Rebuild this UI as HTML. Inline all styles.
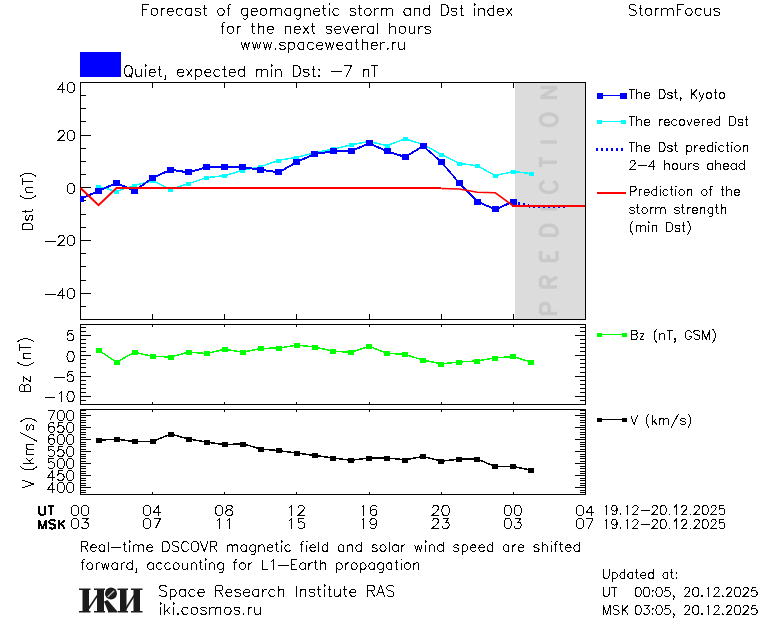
<!DOCTYPE html>
<html><head><meta charset="utf-8"><title>StormFocus</title>
<style>html,body{margin:0;padding:0;background:#fff;font-family:"Liberation Sans",sans-serif}svg{display:block}</style>
</head><body>
<svg width="760" height="620" viewBox="0 0 760 620">
<rect width="760" height="620" fill="#fff"/>
<rect x="515" y="83" width="70" height="236" fill="#dcdcdc"/>
<path d="M540.62 313.53 L557 313.53 M540.62 313.53 L540.62 307.07 L541.4 304.92 L542.18 304.2 L543.74 303.48 L546.08 303.48 L547.64 304.2 L548.42 304.92 L549.2 307.07 L549.2 313.53 M540.62 286.98 L557 286.98 M540.62 286.98 L540.62 280.52 L541.4 278.37 L542.18 277.65 L543.74 276.94 L545.3 276.94 L546.86 277.65 L547.64 278.37 L548.42 280.52 L548.42 286.98 M548.42 281.96 L557 276.94 M540.62 260.43 L557 260.43 M540.62 260.43 L540.62 251.11 M548.42 260.43 L548.42 254.69 M557 260.43 L557 251.11 M540.62 235.32 L557 235.32 M540.62 235.32 L540.62 230.3 L541.4 228.15 L542.96 226.71 L544.52 225.99 L546.86 225.28 L550.76 225.28 L553.1 225.99 L554.66 226.71 L556.22 228.15 L557 230.3 L557 235.32 M540.62 208.77 L557 208.77 M544.52 181.51 L542.96 182.23 L541.4 183.66 L540.62 185.1 L540.62 187.97 L541.4 189.4 L542.96 190.84 L544.52 191.55 L546.86 192.27 L550.76 192.27 L553.1 191.55 L554.66 190.84 L556.22 189.4 L557 187.97 L557 185.1 L556.22 183.66 L554.66 182.23 L553.1 181.51 M540.62 162.14 L557 162.14 M540.62 167.16 L540.62 157.11 M540.62 142.05 L557 142.05 M540.62 121.24 L541.4 122.67 L542.96 124.11 L544.52 124.83 L546.86 125.54 L550.76 125.54 L553.1 124.83 L554.66 124.11 L556.22 122.67 L557 121.24 L557 118.37 L556.22 116.93 L554.66 115.5 L553.1 114.78 L550.76 114.06 L546.86 114.06 L544.52 114.78 L542.96 115.5 L541.4 116.93 L540.62 118.37 L540.62 121.24 M540.62 97.56 L557 97.56 M540.62 97.56 L557 87.52 M540.62 87.52 L557 87.52" fill="none" stroke="#c9c9c9" stroke-width="3.5"/>
<clipPath id="c1"><rect x="80" y="82" width="505" height="238"/></clipPath>
<polyline points="98.54,350.4 116.57,362.4 134.61,352.4 152.64,356.7 170.68,357.2 188.72,352.4 206.75,353.8 224.79,349.5 242.82,352.5 260.86,348.7 278.9,348.3 296.93,345.3 314.97,347.3 333,351.4 351.04,352.6 369.08,346.6 387.11,353.5 405.15,354.7 423.18,360.3 441.22,364.1 459.26,362.2 477.29,361.2 495.33,358.1 513.36,356.9 531.4,362.4" fill="none" stroke="#00ff00" stroke-width="1" shape-rendering="crispEdges"/><polyline points="98.54,349.9 116.57,361.9 134.61,351.9 152.64,356.2 170.68,356.7 188.72,351.9 206.75,353.3 224.79,349 242.82,352 260.86,348.2 278.9,347.8 296.93,344.8 314.97,346.8 333,350.9 351.04,352.1 369.08,346.1 387.11,353 405.15,354.2 423.18,359.8 441.22,363.6 459.26,361.7 477.29,360.7 495.33,357.6 513.36,356.4 531.4,361.9" fill="none" stroke="#00ff00" stroke-width="1" shape-rendering="crispEdges"/>
<rect x="95.54" y="347.9" width="6" height="5" fill="#00ff00" shape-rendering="crispEdges"/>
<rect x="113.57" y="359.9" width="6" height="5" fill="#00ff00" shape-rendering="crispEdges"/>
<rect x="131.61" y="349.9" width="6" height="5" fill="#00ff00" shape-rendering="crispEdges"/>
<rect x="149.64" y="354.2" width="6" height="5" fill="#00ff00" shape-rendering="crispEdges"/>
<rect x="167.68" y="354.7" width="6" height="5" fill="#00ff00" shape-rendering="crispEdges"/>
<rect x="185.72" y="349.9" width="6" height="5" fill="#00ff00" shape-rendering="crispEdges"/>
<rect x="203.75" y="351.3" width="6" height="5" fill="#00ff00" shape-rendering="crispEdges"/>
<rect x="221.79" y="347" width="6" height="5" fill="#00ff00" shape-rendering="crispEdges"/>
<rect x="239.82" y="350" width="6" height="5" fill="#00ff00" shape-rendering="crispEdges"/>
<rect x="257.86" y="346.2" width="6" height="5" fill="#00ff00" shape-rendering="crispEdges"/>
<rect x="275.9" y="345.8" width="6" height="5" fill="#00ff00" shape-rendering="crispEdges"/>
<rect x="293.93" y="342.8" width="6" height="5" fill="#00ff00" shape-rendering="crispEdges"/>
<rect x="311.97" y="344.8" width="6" height="5" fill="#00ff00" shape-rendering="crispEdges"/>
<rect x="330" y="348.9" width="6" height="5" fill="#00ff00" shape-rendering="crispEdges"/>
<rect x="348.04" y="350.1" width="6" height="5" fill="#00ff00" shape-rendering="crispEdges"/>
<rect x="366.08" y="344.1" width="6" height="5" fill="#00ff00" shape-rendering="crispEdges"/>
<rect x="384.11" y="351" width="6" height="5" fill="#00ff00" shape-rendering="crispEdges"/>
<rect x="402.15" y="352.2" width="6" height="5" fill="#00ff00" shape-rendering="crispEdges"/>
<rect x="420.18" y="357.8" width="6" height="5" fill="#00ff00" shape-rendering="crispEdges"/>
<rect x="438.22" y="361.6" width="6" height="5" fill="#00ff00" shape-rendering="crispEdges"/>
<rect x="456.26" y="359.7" width="6" height="5" fill="#00ff00" shape-rendering="crispEdges"/>
<rect x="474.29" y="358.7" width="6" height="5" fill="#00ff00" shape-rendering="crispEdges"/>
<rect x="492.33" y="355.6" width="6" height="5" fill="#00ff00" shape-rendering="crispEdges"/>
<rect x="510.36" y="354.4" width="6" height="5" fill="#00ff00" shape-rendering="crispEdges"/>
<rect x="528.4" y="359.9" width="6" height="5" fill="#00ff00" shape-rendering="crispEdges"/>
<polyline points="98.54,440.4 116.57,439.5 134.61,441.8 152.64,441.6 170.68,434.4 188.72,439.2 206.75,442.4 224.79,444.9 242.82,444 260.86,449.3 278.9,450.9 296.93,453.4 314.97,455.7 333,458.2 351.04,460.5 369.08,458.3 387.11,458.3 405.15,460 423.18,456.8 441.22,461.4 459.26,459.4 477.29,459.2 495.33,466.9 513.36,466.9 531.4,470.3" fill="none" stroke="#000" stroke-width="1" shape-rendering="crispEdges"/><polyline points="98.54,439.9 116.57,439 134.61,441.3 152.64,441.1 170.68,433.9 188.72,438.7 206.75,441.9 224.79,444.4 242.82,443.5 260.86,448.8 278.9,450.4 296.93,452.9 314.97,455.2 333,457.7 351.04,460 369.08,457.8 387.11,457.8 405.15,459.5 423.18,456.3 441.22,460.9 459.26,458.9 477.29,458.7 495.33,466.4 513.36,466.4 531.4,469.8" fill="none" stroke="#000" stroke-width="1" shape-rendering="crispEdges"/>
<rect x="95.54" y="437.9" width="6" height="5" fill="#000" shape-rendering="crispEdges"/>
<rect x="113.57" y="437" width="6" height="5" fill="#000" shape-rendering="crispEdges"/>
<rect x="131.61" y="439.3" width="6" height="5" fill="#000" shape-rendering="crispEdges"/>
<rect x="149.64" y="439.1" width="6" height="5" fill="#000" shape-rendering="crispEdges"/>
<rect x="167.68" y="431.9" width="6" height="5" fill="#000" shape-rendering="crispEdges"/>
<rect x="185.72" y="436.7" width="6" height="5" fill="#000" shape-rendering="crispEdges"/>
<rect x="203.75" y="439.9" width="6" height="5" fill="#000" shape-rendering="crispEdges"/>
<rect x="221.79" y="442.4" width="6" height="5" fill="#000" shape-rendering="crispEdges"/>
<rect x="239.82" y="441.5" width="6" height="5" fill="#000" shape-rendering="crispEdges"/>
<rect x="257.86" y="446.8" width="6" height="5" fill="#000" shape-rendering="crispEdges"/>
<rect x="275.9" y="448.4" width="6" height="5" fill="#000" shape-rendering="crispEdges"/>
<rect x="293.93" y="450.9" width="6" height="5" fill="#000" shape-rendering="crispEdges"/>
<rect x="311.97" y="453.2" width="6" height="5" fill="#000" shape-rendering="crispEdges"/>
<rect x="330" y="455.7" width="6" height="5" fill="#000" shape-rendering="crispEdges"/>
<rect x="348.04" y="458" width="6" height="5" fill="#000" shape-rendering="crispEdges"/>
<rect x="366.08" y="455.8" width="6" height="5" fill="#000" shape-rendering="crispEdges"/>
<rect x="384.11" y="455.8" width="6" height="5" fill="#000" shape-rendering="crispEdges"/>
<rect x="402.15" y="457.5" width="6" height="5" fill="#000" shape-rendering="crispEdges"/>
<rect x="420.18" y="454.3" width="6" height="5" fill="#000" shape-rendering="crispEdges"/>
<rect x="438.22" y="458.9" width="6" height="5" fill="#000" shape-rendering="crispEdges"/>
<rect x="456.26" y="456.9" width="6" height="5" fill="#000" shape-rendering="crispEdges"/>
<rect x="474.29" y="456.7" width="6" height="5" fill="#000" shape-rendering="crispEdges"/>
<rect x="492.33" y="464.4" width="6" height="5" fill="#000" shape-rendering="crispEdges"/>
<rect x="510.36" y="464.4" width="6" height="5" fill="#000" shape-rendering="crispEdges"/>
<rect x="528.4" y="467.8" width="6" height="5" fill="#000" shape-rendering="crispEdges"/>
<path d="M80 82.5 H586 M80 319.5 H586 M80.5 82 V320 M585.5 82 V320 M80 324.5 H586 M80 404.5 H586 M80.5 324 V405 M585.5 324 V405 M80 409.5 H586 M80 494.5 H586 M80.5 409 V495 M585.5 409 V495 M152.5 83 V88 M152.5 314 V319 M152.5 325 V327 M152.5 402 V404 M152.5 410 V412 M152.5 492 V494 M224.5 83 V88 M224.5 314 V319 M224.5 325 V327 M224.5 402 V404 M224.5 410 V412 M224.5 492 V494 M296.5 83 V88 M296.5 314 V319 M296.5 325 V327 M296.5 402 V404 M296.5 410 V412 M296.5 492 V494 M369.5 83 V88 M369.5 314 V319 M369.5 325 V327 M369.5 402 V404 M369.5 410 V412 M369.5 492 V494 M441.5 83 V88 M441.5 314 V319 M441.5 325 V327 M441.5 402 V404 M441.5 410 V412 M441.5 492 V494 M513.5 83 V88 M513.5 314 V319 M513.5 325 V327 M513.5 402 V404 M513.5 410 V412 M513.5 492 V494 M81 95.5 H86 M81 108.5 H86 M81 121.5 H86 M81 135.5 H91 M81 148.5 H86 M81 161.5 H86 M81 174.5 H86 M81 187.5 H91 M81 200.5 H86 M81 214.5 H86 M81 227.5 H86 M81 240.5 H91 M81 253.5 H86 M81 266.5 H86 M81 280.5 H86 M81 293.5 H91 M81 306.5 H86 M81 327.5 H86 M580 327.5 H585 M81 331.5 H86 M580 331.5 H585 M81 335.5 H91 M575 335.5 H585 M81 339.5 H86 M580 339.5 H585 M81 343.5 H86 M580 343.5 H585 M81 347.5 H86 M580 347.5 H585 M81 351.5 H86 M580 351.5 H585 M81 355.5 H91 M575 355.5 H585 M81 359.5 H86 M580 359.5 H585 M81 363.5 H86 M580 363.5 H585 M81 367.5 H86 M580 367.5 H585 M81 372.5 H86 M580 372.5 H585 M81 376.5 H91 M575 376.5 H585 M81 380.5 H86 M580 380.5 H585 M81 384.5 H86 M580 384.5 H585 M81 388.5 H86 M580 388.5 H585 M81 392.5 H86 M580 392.5 H585 M81 396.5 H91 M575 396.5 H585 M81 400.5 H86 M580 400.5 H585 M81 410.5 H86 M580 410.5 H585 M81 413.5 H86 M580 413.5 H585 M81 415.5 H91 M575 415.5 H585 M81 417.5 H86 M580 417.5 H585 M81 420.5 H86 M580 420.5 H585 M81 422.5 H86 M580 422.5 H585 M81 425.5 H86 M580 425.5 H585 M81 427.5 H91 M575 427.5 H585 M81 429.5 H86 M580 429.5 H585 M81 432.5 H86 M580 432.5 H585 M81 434.5 H86 M580 434.5 H585 M81 437.5 H86 M580 437.5 H585 M81 439.5 H91 M575 439.5 H585 M81 442.5 H86 M580 442.5 H585 M81 444.5 H86 M580 444.5 H585 M81 446.5 H86 M580 446.5 H585 M81 449.5 H86 M580 449.5 H585 M81 451.5 H91 M575 451.5 H585 M81 454.5 H86 M580 454.5 H585 M81 456.5 H86 M580 456.5 H585 M81 458.5 H86 M580 458.5 H585 M81 461.5 H86 M580 461.5 H585 M81 463.5 H91 M575 463.5 H585 M81 466.5 H86 M580 466.5 H585 M81 468.5 H86 M580 468.5 H585 M81 471.5 H86 M580 471.5 H585 M81 473.5 H86 M580 473.5 H585 M81 475.5 H91 M575 475.5 H585 M81 478.5 H86 M580 478.5 H585 M81 480.5 H86 M580 480.5 H585 M81 483.5 H86 M580 483.5 H585 M81 485.5 H86 M580 485.5 H585 M81 487.5 H91 M575 487.5 H585 M81 490.5 H86 M580 490.5 H585 M81 492.5 H86 M580 492.5 H585" stroke="#000" stroke-width="1" fill="none" shape-rendering="crispEdges"/>
<g clip-path="url(#c1)">
<polyline points="98.54,186.9 116.57,191.6 134.61,185.6 152.64,181 170.68,189.7 188.72,183.8 206.75,177.9 224.79,175.9 242.82,170.5 260.86,166.9 278.9,160.5 296.93,157.5 314.97,152.9 333,149.4 351.04,145 369.08,141.8 387.11,145.8 405.15,139.1 423.18,144.7 441.22,154.7 459.26,163.7 477.29,166 495.33,175.9 513.36,171.7 531.4,173.9" fill="none" stroke="#00ffff" stroke-width="1" shape-rendering="crispEdges"/><polyline points="98.54,186.4 116.57,191.1 134.61,185.1 152.64,180.5 170.68,189.2 188.72,183.3 206.75,177.4 224.79,175.4 242.82,170 260.86,166.4 278.9,160 296.93,157 314.97,152.4 333,148.9 351.04,144.5 369.08,141.3 387.11,145.3 405.15,138.6 423.18,144.2 441.22,154.2 459.26,163.2 477.29,165.5 495.33,175.4 513.36,171.2 531.4,173.4" fill="none" stroke="#00ffff" stroke-width="1" shape-rendering="crispEdges"/>
<rect x="96.04" y="184.9" width="5" height="4" fill="#00ffff" shape-rendering="crispEdges"/>
<rect x="114.07" y="189.6" width="5" height="4" fill="#00ffff" shape-rendering="crispEdges"/>
<rect x="132.11" y="183.6" width="5" height="4" fill="#00ffff" shape-rendering="crispEdges"/>
<rect x="150.14" y="179" width="5" height="4" fill="#00ffff" shape-rendering="crispEdges"/>
<rect x="168.18" y="187.7" width="5" height="4" fill="#00ffff" shape-rendering="crispEdges"/>
<rect x="186.22" y="181.8" width="5" height="4" fill="#00ffff" shape-rendering="crispEdges"/>
<rect x="204.25" y="175.9" width="5" height="4" fill="#00ffff" shape-rendering="crispEdges"/>
<rect x="222.29" y="173.9" width="5" height="4" fill="#00ffff" shape-rendering="crispEdges"/>
<rect x="240.32" y="168.5" width="5" height="4" fill="#00ffff" shape-rendering="crispEdges"/>
<rect x="258.36" y="164.9" width="5" height="4" fill="#00ffff" shape-rendering="crispEdges"/>
<rect x="276.4" y="158.5" width="5" height="4" fill="#00ffff" shape-rendering="crispEdges"/>
<rect x="294.43" y="155.5" width="5" height="4" fill="#00ffff" shape-rendering="crispEdges"/>
<rect x="312.47" y="150.9" width="5" height="4" fill="#00ffff" shape-rendering="crispEdges"/>
<rect x="330.5" y="147.4" width="5" height="4" fill="#00ffff" shape-rendering="crispEdges"/>
<rect x="348.54" y="143" width="5" height="4" fill="#00ffff" shape-rendering="crispEdges"/>
<rect x="366.58" y="139.8" width="5" height="4" fill="#00ffff" shape-rendering="crispEdges"/>
<rect x="384.61" y="143.8" width="5" height="4" fill="#00ffff" shape-rendering="crispEdges"/>
<rect x="402.65" y="137.1" width="5" height="4" fill="#00ffff" shape-rendering="crispEdges"/>
<rect x="420.68" y="142.7" width="5" height="4" fill="#00ffff" shape-rendering="crispEdges"/>
<rect x="438.72" y="152.7" width="5" height="4" fill="#00ffff" shape-rendering="crispEdges"/>
<rect x="456.76" y="161.7" width="5" height="4" fill="#00ffff" shape-rendering="crispEdges"/>
<rect x="474.79" y="164" width="5" height="4" fill="#00ffff" shape-rendering="crispEdges"/>
<rect x="492.83" y="173.9" width="5" height="4" fill="#00ffff" shape-rendering="crispEdges"/>
<rect x="510.86" y="169.7" width="5" height="4" fill="#00ffff" shape-rendering="crispEdges"/>
<rect x="528.9" y="171.9" width="5" height="4" fill="#00ffff" shape-rendering="crispEdges"/>
<polyline points="80.5,198.38 98.54,190.44 116.57,182.51 134.61,190.44 152.64,177.22 170.68,169.28 188.72,171.93 206.75,166.64 224.79,166.64 242.82,166.64 260.86,169.28 278.9,171.93 296.93,161.35 314.97,153.42 333,150.77 351.04,150.77 369.08,142.84 387.11,150.77 405.15,156.46 423.18,145.48 441.22,161.35 459.26,182.51 477.29,201.03 495.33,208.96 513.36,201.03" fill="none" stroke="#0000ff" stroke-width="1" shape-rendering="crispEdges"/><polyline points="80.5,199.38 98.54,191.44 116.57,183.51 134.61,191.44 152.64,178.22 170.68,170.28 188.72,172.93 206.75,167.64 224.79,167.64 242.82,167.64 260.86,170.28 278.9,172.93 296.93,162.35 314.97,154.42 333,151.77 351.04,151.77 369.08,143.84 387.11,151.77 405.15,157.46 423.18,146.48 441.22,162.35 459.26,183.51 477.29,202.03 495.33,209.96 513.36,202.03" fill="none" stroke="#0000ff" stroke-width="1" shape-rendering="crispEdges"/>
<rect x="77" y="195.88" width="7" height="6" fill="#0000ff" shape-rendering="crispEdges"/>
<rect x="95.04" y="187.94" width="7" height="6" fill="#0000ff" shape-rendering="crispEdges"/>
<rect x="113.07" y="180.01" width="7" height="6" fill="#0000ff" shape-rendering="crispEdges"/>
<rect x="131.11" y="187.94" width="7" height="6" fill="#0000ff" shape-rendering="crispEdges"/>
<rect x="149.14" y="174.72" width="7" height="6" fill="#0000ff" shape-rendering="crispEdges"/>
<rect x="167.18" y="166.78" width="7" height="6" fill="#0000ff" shape-rendering="crispEdges"/>
<rect x="185.22" y="169.43" width="7" height="6" fill="#0000ff" shape-rendering="crispEdges"/>
<rect x="203.25" y="164.14" width="7" height="6" fill="#0000ff" shape-rendering="crispEdges"/>
<rect x="221.29" y="164.14" width="7" height="6" fill="#0000ff" shape-rendering="crispEdges"/>
<rect x="239.32" y="164.14" width="7" height="6" fill="#0000ff" shape-rendering="crispEdges"/>
<rect x="257.36" y="166.78" width="7" height="6" fill="#0000ff" shape-rendering="crispEdges"/>
<rect x="275.4" y="169.43" width="7" height="6" fill="#0000ff" shape-rendering="crispEdges"/>
<rect x="293.43" y="158.85" width="7" height="6" fill="#0000ff" shape-rendering="crispEdges"/>
<rect x="311.47" y="150.92" width="7" height="6" fill="#0000ff" shape-rendering="crispEdges"/>
<rect x="329.5" y="148.27" width="7" height="6" fill="#0000ff" shape-rendering="crispEdges"/>
<rect x="347.54" y="148.27" width="7" height="6" fill="#0000ff" shape-rendering="crispEdges"/>
<rect x="365.58" y="140.34" width="7" height="6" fill="#0000ff" shape-rendering="crispEdges"/>
<rect x="383.61" y="148.27" width="7" height="6" fill="#0000ff" shape-rendering="crispEdges"/>
<rect x="401.65" y="153.96" width="7" height="6" fill="#0000ff" shape-rendering="crispEdges"/>
<rect x="419.68" y="142.98" width="7" height="6" fill="#0000ff" shape-rendering="crispEdges"/>
<rect x="437.72" y="158.85" width="7" height="6" fill="#0000ff" shape-rendering="crispEdges"/>
<rect x="455.76" y="180.01" width="7" height="6" fill="#0000ff" shape-rendering="crispEdges"/>
<rect x="473.79" y="198.53" width="7" height="6" fill="#0000ff" shape-rendering="crispEdges"/>
<rect x="491.83" y="206.46" width="7" height="6" fill="#0000ff" shape-rendering="crispEdges"/>
<rect x="509.86" y="198.53" width="7" height="6" fill="#0000ff" shape-rendering="crispEdges"/>
<polyline points="513.36,201.03 531.4,205.5 567.47,205.5" fill="none" stroke="#0000ff" stroke-width="1" shape-rendering="crispEdges" stroke-dasharray="2 3"/><polyline points="513.36,202.03 531.4,206.5 567.47,206.5" fill="none" stroke="#0000ff" stroke-width="1" shape-rendering="crispEdges" stroke-dasharray="2 3"/><polyline points="513.36,203.03 531.4,207.5 567.47,207.5" fill="none" stroke="#0000ff" stroke-width="1" shape-rendering="crispEdges" stroke-dasharray="2 3"/>
<polyline points="80.5,188 98.54,205.2 116.57,188 119.57,188" fill="none" stroke="#ff0000" stroke-width="2" stroke-linejoin="miter"/>
<polyline points="118.57,187.5 441.22,187.5" fill="none" stroke="#ff0000" stroke-width="1" shape-rendering="crispEdges"/><polyline points="118.57,188.5 441.22,188.5" fill="none" stroke="#ff0000" stroke-width="1" shape-rendering="crispEdges"/>
<polyline points="441.22,188.5 459.26,189 477.29,192.3 495.33,192.8 513.36,206" fill="none" stroke="#ff0000" stroke-width="1.6"/>
<polyline points="512.36,205.5 585,205.5" fill="none" stroke="#ff0000" stroke-width="1" shape-rendering="crispEdges"/><polyline points="512.36,206.5 585,206.5" fill="none" stroke="#ff0000" stroke-width="1" shape-rendering="crispEdges"/>
</g>
<path d="M62.88 82.5 L58.12 89.17 L65.25 89.17 M62.88 82.5 L62.88 92.5 M70.44 82.5 L68.92 82.98 L67.9 84.41 L67.39 86.79 L67.39 88.22 L67.9 90.6 L68.92 92.02 L70.44 92.5 L71.46 92.5 L72.98 92.02 L74 90.6 L74.51 88.22 L74.51 86.79 L74 84.41 L72.98 82.98 L71.46 82.5 L70.44 82.5" fill="none" stroke="#000" stroke-width="1" shape-rendering="crispEdges"/>
<path d="M58.6 132.88 L58.6 132.41 L59.08 131.46 L59.55 130.98 L60.5 130.5 L62.4 130.5 L63.35 130.98 L63.83 131.46 L64.3 132.41 L64.3 133.36 L63.83 134.31 L62.88 135.74 L58.12 140.5 L64.78 140.5 M70.44 130.5 L68.92 130.98 L67.9 132.41 L67.39 134.79 L67.39 136.22 L67.9 138.6 L68.92 140.02 L70.44 140.5 L71.46 140.5 L72.98 140.02 L74 138.6 L74.51 136.22 L74.51 134.79 L74 132.41 L72.98 130.98 L71.46 130.5 L70.44 130.5" fill="none" stroke="#000" stroke-width="1" shape-rendering="crispEdges"/>
<path d="M70.44 183.5 L68.92 183.98 L67.9 185.41 L67.39 187.79 L67.39 189.22 L67.9 191.6 L68.92 193.02 L70.44 193.5 L71.46 193.5 L72.98 193.02 L74 191.6 L74.51 189.22 L74.51 187.79 L74 185.41 L72.98 183.98 L71.46 183.5 L70.44 183.5" fill="none" stroke="#000" stroke-width="1" shape-rendering="crispEdges"/>
<path d="M45.3 241.22 L55.75 241.22 M58.6 237.88 L58.6 237.41 L59.08 236.46 L59.55 235.98 L60.5 235.5 L62.4 235.5 L63.35 235.98 L63.83 236.46 L64.3 237.41 L64.3 238.36 L63.83 239.31 L62.88 240.74 L58.13 245.5 L64.78 245.5 M70.44 235.5 L68.92 235.98 L67.9 237.41 L67.39 239.79 L67.39 241.22 L67.9 243.6 L68.92 245.02 L70.44 245.5 L71.46 245.5 L72.98 245.02 L74 243.6 L74.51 241.22 L74.51 239.79 L74 237.41 L72.98 235.98 L71.46 235.5 L70.44 235.5" fill="none" stroke="#000" stroke-width="1" shape-rendering="crispEdges"/>
<path d="M45.3 294.22 L55.75 294.22 M62.88 288.5 L58.13 295.17 L65.25 295.17 M62.88 288.5 L62.88 298.5 M70.44 288.5 L68.92 288.98 L67.9 290.41 L67.39 292.79 L67.39 294.22 L67.9 296.6 L68.92 298.02 L70.44 298.5 L71.46 298.5 L72.98 298.02 L74 296.6 L74.51 294.22 L74.51 292.79 L74 290.41 L72.98 288.98 L71.46 288.5 L70.44 288.5" fill="none" stroke="#000" stroke-width="1" shape-rendering="crispEdges"/>
<path d="M72.92 330.5 L68.17 330.5 L67.7 334.79 L68.17 334.31 L69.6 333.84 L71.02 333.84 L72.45 334.31 L73.4 335.26 L73.88 336.69 L73.88 337.64 L73.4 339.07 L72.45 340.02 L71.02 340.5 L69.6 340.5 L68.17 340.02 L67.7 339.55 L67.22 338.6" fill="none" stroke="#000" stroke-width="1" shape-rendering="crispEdges"/>
<path d="M70.04 351.5 L68.52 351.98 L67.5 353.41 L66.99 355.79 L66.99 357.22 L67.5 359.6 L68.52 361.02 L70.04 361.5 L71.06 361.5 L72.58 361.02 L73.6 359.6 L74.11 357.22 L74.11 355.79 L73.6 353.41 L72.58 351.98 L71.06 351.5 L70.04 351.5" fill="none" stroke="#000" stroke-width="1" shape-rendering="crispEdges"/>
<path d="M54.4 377.22 L64.85 377.22 M72.92 371.5 L68.17 371.5 L67.7 375.79 L68.17 375.31 L69.6 374.84 L71.03 374.84 L72.45 375.31 L73.4 376.26 L73.88 377.69 L73.88 378.64 L73.4 380.07 L72.45 381.02 L71.03 381.5 L69.6 381.5 L68.17 381.02 L67.7 380.55 L67.22 379.6" fill="none" stroke="#000" stroke-width="1" shape-rendering="crispEdges"/>
<path d="M44.9 397.22 L55.35 397.22 M59.15 393.41 L60.1 392.93 L61.53 391.5 L61.53 401.5 M70.04 391.5 L68.52 391.98 L67.5 393.41 L66.99 395.79 L66.99 397.22 L67.5 399.6 L68.52 401.02 L70.04 401.5 L71.06 401.5 L72.58 401.02 L73.6 399.6 L74.11 397.22 L74.11 395.79 L73.6 393.41 L72.58 391.98 L71.06 391.5 L70.04 391.5" fill="none" stroke="#000" stroke-width="1" shape-rendering="crispEdges"/>
<path d="M54.58 410.5 L49.83 420.5 M47.92 410.5 L54.58 410.5 M60.24 410.5 L58.72 410.98 L57.7 412.41 L57.19 414.79 L57.19 416.22 L57.7 418.6 L58.72 420.02 L60.24 420.5 L61.26 420.5 L62.78 420.02 L63.8 418.6 L64.31 416.22 L64.31 414.79 L63.8 412.41 L62.78 410.98 L61.26 410.5 L60.24 410.5 M69.74 410.5 L68.22 410.98 L67.2 412.41 L66.69 414.79 L66.69 416.22 L67.2 418.6 L68.22 420.02 L69.74 420.5 L70.76 420.5 L72.28 420.02 L73.3 418.6 L73.81 416.22 L73.81 414.79 L73.3 412.41 L72.28 410.98 L70.76 410.5 L69.74 410.5" fill="none" stroke="#000" stroke-width="1" shape-rendering="crispEdges"/>
<path d="M54.1 423.93 L53.62 422.98 L52.2 422.5 L51.25 422.5 L49.83 422.98 L48.88 424.41 L48.4 426.79 L48.4 429.17 L48.88 431.07 L49.83 432.02 L51.25 432.5 L51.73 432.5 L53.15 432.02 L54.1 431.07 L54.58 429.64 L54.58 429.17 L54.1 427.74 L53.15 426.79 L51.73 426.31 L51.25 426.31 L49.83 426.79 L48.88 427.74 L48.4 429.17 M63.12 422.5 L58.38 422.5 L57.9 426.79 L58.38 426.31 L59.8 425.84 L61.23 425.84 L62.65 426.31 L63.6 427.26 L64.08 428.69 L64.08 429.64 L63.6 431.07 L62.65 432.02 L61.23 432.5 L59.8 432.5 L58.38 432.02 L57.9 431.55 L57.42 430.6 M69.74 422.5 L68.22 422.98 L67.2 424.41 L66.69 426.79 L66.69 428.22 L67.2 430.6 L68.22 432.02 L69.74 432.5 L70.76 432.5 L72.28 432.02 L73.3 430.6 L73.81 428.22 L73.81 426.79 L73.3 424.41 L72.28 422.98 L70.76 422.5 L69.74 422.5" fill="none" stroke="#000" stroke-width="1" shape-rendering="crispEdges"/>
<path d="M54.1 435.93 L53.62 434.98 L52.2 434.5 L51.25 434.5 L49.83 434.98 L48.88 436.41 L48.4 438.79 L48.4 441.17 L48.88 443.07 L49.83 444.02 L51.25 444.5 L51.73 444.5 L53.15 444.02 L54.1 443.07 L54.58 441.64 L54.58 441.17 L54.1 439.74 L53.15 438.79 L51.73 438.31 L51.25 438.31 L49.83 438.79 L48.88 439.74 L48.4 441.17 M60.24 434.5 L58.72 434.98 L57.7 436.41 L57.19 438.79 L57.19 440.22 L57.7 442.6 L58.72 444.02 L60.24 444.5 L61.26 444.5 L62.78 444.02 L63.8 442.6 L64.31 440.22 L64.31 438.79 L63.8 436.41 L62.78 434.98 L61.26 434.5 L60.24 434.5 M69.74 434.5 L68.22 434.98 L67.2 436.41 L66.69 438.79 L66.69 440.22 L67.2 442.6 L68.22 444.02 L69.74 444.5 L70.76 444.5 L72.28 444.02 L73.3 442.6 L73.81 440.22 L73.81 438.79 L73.3 436.41 L72.28 434.98 L70.76 434.5 L69.74 434.5" fill="none" stroke="#000" stroke-width="1" shape-rendering="crispEdges"/>
<path d="M53.62 446.5 L48.88 446.5 L48.4 450.79 L48.88 450.31 L50.3 449.84 L51.73 449.84 L53.15 450.31 L54.1 451.26 L54.58 452.69 L54.58 453.64 L54.1 455.07 L53.15 456.02 L51.73 456.5 L50.3 456.5 L48.88 456.02 L48.4 455.55 L47.92 454.6 M63.12 446.5 L58.38 446.5 L57.9 450.79 L58.38 450.31 L59.8 449.84 L61.23 449.84 L62.65 450.31 L63.6 451.26 L64.08 452.69 L64.08 453.64 L63.6 455.07 L62.65 456.02 L61.23 456.5 L59.8 456.5 L58.38 456.02 L57.9 455.55 L57.42 454.6 M69.74 446.5 L68.22 446.98 L67.2 448.41 L66.69 450.79 L66.69 452.22 L67.2 454.6 L68.22 456.02 L69.74 456.5 L70.76 456.5 L72.28 456.02 L73.3 454.6 L73.81 452.22 L73.81 450.79 L73.3 448.41 L72.28 446.98 L70.76 446.5 L69.74 446.5" fill="none" stroke="#000" stroke-width="1" shape-rendering="crispEdges"/>
<path d="M53.62 458.5 L48.88 458.5 L48.4 462.79 L48.88 462.31 L50.3 461.84 L51.73 461.84 L53.15 462.31 L54.1 463.26 L54.58 464.69 L54.58 465.64 L54.1 467.07 L53.15 468.02 L51.73 468.5 L50.3 468.5 L48.88 468.02 L48.4 467.55 L47.92 466.6 M60.24 458.5 L58.72 458.98 L57.7 460.41 L57.19 462.79 L57.19 464.22 L57.7 466.6 L58.72 468.02 L60.24 468.5 L61.26 468.5 L62.78 468.02 L63.8 466.6 L64.31 464.22 L64.31 462.79 L63.8 460.41 L62.78 458.98 L61.26 458.5 L60.24 458.5 M69.74 458.5 L68.22 458.98 L67.2 460.41 L66.69 462.79 L66.69 464.22 L67.2 466.6 L68.22 468.02 L69.74 468.5 L70.76 468.5 L72.28 468.02 L73.3 466.6 L73.81 464.22 L73.81 462.79 L73.3 460.41 L72.28 458.98 L70.76 458.5 L69.74 458.5" fill="none" stroke="#000" stroke-width="1" shape-rendering="crispEdges"/>
<path d="M52.67 470.5 L47.92 477.17 L55.05 477.17 M52.67 470.5 L52.67 480.5 M63.12 470.5 L58.38 470.5 L57.9 474.79 L58.38 474.31 L59.8 473.84 L61.23 473.84 L62.65 474.31 L63.6 475.26 L64.08 476.69 L64.08 477.64 L63.6 479.07 L62.65 480.02 L61.23 480.5 L59.8 480.5 L58.38 480.02 L57.9 479.55 L57.42 478.6 M69.74 470.5 L68.22 470.98 L67.2 472.41 L66.69 474.79 L66.69 476.22 L67.2 478.6 L68.22 480.02 L69.74 480.5 L70.76 480.5 L72.28 480.02 L73.3 478.6 L73.81 476.22 L73.81 474.79 L73.3 472.41 L72.28 470.98 L70.76 470.5 L69.74 470.5" fill="none" stroke="#000" stroke-width="1" shape-rendering="crispEdges"/>
<path d="M52.67 482.5 L47.92 489.17 L55.05 489.17 M52.67 482.5 L52.67 492.5 M60.24 482.5 L58.72 482.98 L57.7 484.41 L57.19 486.79 L57.19 488.22 L57.7 490.6 L58.72 492.02 L60.24 492.5 L61.26 492.5 L62.78 492.02 L63.8 490.6 L64.31 488.22 L64.31 486.79 L63.8 484.41 L62.78 482.98 L61.26 482.5 L60.24 482.5 M69.74 482.5 L68.22 482.98 L67.2 484.41 L66.69 486.79 L66.69 488.22 L67.2 490.6 L68.22 492.02 L69.74 492.5 L70.76 492.5 L72.28 492.02 L73.3 490.6 L73.81 488.22 L73.81 486.79 L73.3 484.41 L72.28 482.98 L70.76 482.5 L69.74 482.5" fill="none" stroke="#000" stroke-width="1" shape-rendering="crispEdges"/>
<path d="M22.11 229.54 L32.5 229.54 M22.11 229.54 L22.11 226.28 L22.6 224.89 L23.59 223.96 L24.58 223.5 L26.07 223.03 L28.54 223.03 L30.02 223.5 L31.02 223.96 L32.01 224.89 L32.5 226.28 L32.5 229.54 M27.05 215.12 L26.07 215.59 L25.57 216.99 L25.57 218.38 L26.07 219.78 L27.05 220.24 L28.05 219.78 L28.54 218.84 L29.04 216.52 L29.53 215.59 L30.52 215.12 L31.02 215.12 L32.01 215.59 L32.5 216.99 L32.5 218.38 L32.01 219.78 L31.02 220.24 M22.11 211.41 L30.52 211.41 L32.01 210.94 L32.5 210.01 L32.5 209.08 M25.57 212.8 L25.57 209.55 M20.12 195.59 L21.12 196.53 L22.6 197.46 L24.58 198.38 L27.05 198.85 L29.04 198.85 L31.51 198.38 L33.49 197.46 L34.98 196.53 L35.97 195.59 M25.57 192.34 L32.5 192.34 M27.55 192.34 L26.07 190.94 L25.57 190.01 L25.57 188.62 L26.07 187.69 L27.55 187.22 L32.5 187.22 M22.11 181.65 L32.5 181.65 M22.11 184.9 L22.11 178.39 M20.12 176.53 L21.12 175.6 L22.6 174.67 L24.58 173.74 L27.05 173.28 L29.04 173.28 L31.51 173.74 L33.49 174.67 L34.98 175.6 L35.97 176.53" fill="none" stroke="#000" stroke-width="1" shape-rendering="crispEdges"/>
<path d="M19.5 391.46 L30.5 391.46 M19.5 391.46 L19.5 387.11 L20.02 385.66 L20.54 385.17 L21.59 384.69 L22.64 384.69 L23.69 385.17 L24.21 385.66 L24.74 387.11 M24.74 391.46 L24.74 387.11 L25.26 385.66 L25.78 385.17 L26.83 384.69 L28.4 384.69 L29.45 385.17 L29.98 385.66 L30.5 387.11 L30.5 391.46 M23.16 376.46 L30.5 381.78 M23.16 381.78 L23.16 376.46 M30.5 381.78 L30.5 376.46 M17.4 361.94 L18.45 362.91 L20.02 363.88 L22.12 364.84 L24.74 365.33 L26.83 365.33 L29.45 364.84 L31.55 363.88 L33.12 362.91 L34.17 361.94 M23.16 358.55 L30.5 358.55 M25.26 358.55 L23.69 357.1 L23.16 356.13 L23.16 354.68 L23.69 353.71 L25.26 353.23 L30.5 353.23 M19.5 347.42 L30.5 347.42 M19.5 350.81 L19.5 344.03 M17.4 342.1 L18.45 341.13 L20.02 340.16 L22.12 339.19 L24.74 338.71 L26.83 338.71 L29.45 339.19 L31.55 340.16 L33.12 341.13 L34.17 342.1" fill="none" stroke="#000" stroke-width="1" shape-rendering="crispEdges"/>
<path d="M22.5 487.91 L33.5 484.03 M22.5 480.15 L33.5 484.03 M20.4 466.57 L21.45 467.54 L23.02 468.51 L25.12 469.48 L27.74 469.97 L29.83 469.97 L32.45 469.48 L34.55 468.51 L36.12 467.54 L37.17 466.57 M22.5 463.18 L33.5 463.18 M26.16 458.33 L31.4 463.18 M29.31 461.24 L33.5 457.84 M26.16 454.94 L33.5 454.94 M28.26 454.94 L26.69 453.48 L26.16 452.51 L26.16 451.05 L26.69 450.08 L28.26 449.6 L33.5 449.6 M28.26 449.6 L26.69 448.14 L26.16 447.17 L26.16 445.72 L26.69 444.75 L28.26 444.26 L33.5 444.26 M20.4 432.62 L37.17 441.35 M27.74 424.87 L26.69 425.35 L26.16 426.8 L26.16 428.26 L26.69 429.71 L27.74 430.2 L28.78 429.71 L29.31 428.75 L29.83 426.32 L30.36 425.35 L31.4 424.87 L31.93 424.87 L32.98 425.35 L33.5 426.8 L33.5 428.26 L32.98 429.71 L31.93 430.2 M20.4 421.95 L21.45 420.99 L23.02 420.01 L25.12 419.04 L27.74 418.56 L29.83 418.56 L32.45 419.04 L34.55 420.01 L36.12 420.99 L37.17 421.95" fill="none" stroke="#000" stroke-width="1" shape-rendering="crispEdges"/>
<path d="M74.37 505.5 L72.76 505.98 L71.69 507.41 L71.16 509.79 L71.16 511.22 L71.69 513.6 L72.76 515.02 L74.37 515.5 L75.44 515.5 L77.04 515.02 L78.11 513.6 L78.65 511.22 L78.65 509.79 L78.11 507.41 L77.04 505.98 L75.44 505.5 L74.37 505.5 M84.37 505.5 L82.76 505.98 L81.69 507.41 L81.16 509.79 L81.16 511.22 L81.69 513.6 L82.76 515.02 L84.37 515.5 L85.44 515.5 L87.04 515.02 L88.11 513.6 L88.65 511.22 L88.65 509.79 L88.11 507.41 L87.04 505.98 L85.44 505.5 L84.37 505.5" fill="none" stroke="#000" stroke-width="1" shape-rendering="crispEdges"/>
<path d="M74.37 518.5 L72.76 518.98 L71.69 520.41 L71.16 522.79 L71.16 524.22 L71.69 526.6 L72.76 528.02 L74.37 528.5 L75.44 528.5 L77.04 528.02 L78.11 526.6 L78.65 524.22 L78.65 522.79 L78.11 520.41 L77.04 518.98 L75.44 518.5 L74.37 518.5 M82.4 518.5 L87.9 518.5 L84.9 522.31 L86.4 522.31 L87.4 522.79 L87.9 523.26 L88.4 524.69 L88.4 525.64 L87.9 527.07 L86.9 528.02 L85.4 528.5 L83.9 528.5 L82.4 528.02 L81.9 527.55 L81.4 526.6" fill="none" stroke="#000" stroke-width="1" shape-rendering="crispEdges"/>
<path d="M146.51 505.5 L144.9 505.98 L143.83 507.41 L143.3 509.79 L143.3 511.22 L143.83 513.6 L144.9 515.02 L146.51 515.5 L147.58 515.5 L149.18 515.02 L150.25 513.6 L150.79 511.22 L150.79 509.79 L150.25 507.41 L149.18 505.98 L147.58 505.5 L146.51 505.5 M158.54 505.5 L153.54 512.17 L161.04 512.17 M158.54 505.5 L158.54 515.5" fill="none" stroke="#000" stroke-width="1" shape-rendering="crispEdges"/>
<path d="M146.51 518.5 L144.9 518.98 L143.83 520.41 L143.3 522.79 L143.3 524.22 L143.83 526.6 L144.9 528.02 L146.51 528.5 L147.58 528.5 L149.18 528.02 L150.25 526.6 L150.79 524.22 L150.79 522.79 L150.25 520.41 L149.18 518.98 L147.58 518.5 L146.51 518.5 M160.54 518.5 L155.54 528.5 M153.54 518.5 L160.54 518.5" fill="none" stroke="#000" stroke-width="1" shape-rendering="crispEdges"/>
<path d="M218.65 505.5 L217.05 505.98 L215.98 507.41 L215.44 509.79 L215.44 511.22 L215.98 513.6 L217.05 515.02 L218.65 515.5 L219.72 515.5 L221.33 515.02 L222.4 513.6 L222.93 511.22 L222.93 509.79 L222.4 507.41 L221.33 505.98 L219.72 505.5 L218.65 505.5 M228.19 505.5 L226.69 505.98 L226.19 506.93 L226.19 507.88 L226.69 508.84 L227.69 509.31 L229.69 509.79 L231.19 510.26 L232.19 511.22 L232.69 512.17 L232.69 513.6 L232.19 514.55 L231.69 515.02 L230.19 515.5 L228.19 515.5 L226.69 515.02 L226.19 514.55 L225.69 513.6 L225.69 512.17 L226.19 511.22 L227.19 510.26 L228.69 509.79 L230.69 509.31 L231.69 508.84 L232.19 507.88 L232.19 506.93 L231.69 505.98 L230.19 505.5 L228.19 505.5" fill="none" stroke="#000" stroke-width="1" shape-rendering="crispEdges"/>
<path d="M217.19 520.41 L218.19 519.93 L219.69 518.5 L219.69 528.5 M227.19 520.41 L228.19 519.93 L229.69 518.5 L229.69 528.5" fill="none" stroke="#000" stroke-width="1" shape-rendering="crispEdges"/>
<path d="M289.33 507.41 L290.33 506.93 L291.83 505.5 L291.83 515.5 M298.33 507.88 L298.33 507.41 L298.83 506.46 L299.33 505.98 L300.33 505.5 L302.33 505.5 L303.33 505.98 L303.83 506.46 L304.33 507.41 L304.33 508.36 L303.83 509.31 L302.83 510.74 L297.83 515.5 L304.83 515.5" fill="none" stroke="#000" stroke-width="1" shape-rendering="crispEdges"/>
<path d="M289.33 520.41 L290.33 519.93 L291.83 518.5 L291.83 528.5 M303.83 518.5 L298.83 518.5 L298.33 522.79 L298.83 522.31 L300.33 521.84 L301.83 521.84 L303.33 522.31 L304.33 523.26 L304.83 524.69 L304.83 525.64 L304.33 527.07 L303.33 528.02 L301.83 528.5 L300.33 528.5 L298.83 528.02 L298.33 527.55 L297.83 526.6" fill="none" stroke="#000" stroke-width="1" shape-rendering="crispEdges"/>
<path d="M361.48 507.41 L362.48 506.93 L363.98 505.5 L363.98 515.5 M376.48 506.93 L375.98 505.98 L374.48 505.5 L373.48 505.5 L371.98 505.98 L370.98 507.41 L370.48 509.79 L370.48 512.17 L370.98 514.07 L371.98 515.02 L373.48 515.5 L373.98 515.5 L375.48 515.02 L376.48 514.07 L376.98 512.64 L376.98 512.17 L376.48 510.74 L375.48 509.79 L373.98 509.31 L373.48 509.31 L371.98 509.79 L370.98 510.74 L370.48 512.17" fill="none" stroke="#000" stroke-width="1" shape-rendering="crispEdges"/>
<path d="M361.48 520.41 L362.48 519.93 L363.98 518.5 L363.98 528.5 M376.48 521.84 L375.98 523.26 L374.98 524.22 L373.48 524.69 L372.98 524.69 L371.48 524.22 L370.48 523.26 L369.98 521.84 L369.98 521.36 L370.48 519.93 L371.48 518.98 L372.98 518.5 L373.48 518.5 L374.98 518.98 L375.98 519.93 L376.48 521.84 L376.48 524.22 L375.98 526.6 L374.98 528.02 L373.48 528.5 L372.48 528.5 L370.98 528.02 L370.48 527.07" fill="none" stroke="#000" stroke-width="1" shape-rendering="crispEdges"/>
<path d="M432.62 507.88 L432.62 507.41 L433.12 506.46 L433.62 505.98 L434.62 505.5 L436.62 505.5 L437.62 505.98 L438.12 506.46 L438.62 507.41 L438.62 508.36 L438.12 509.31 L437.12 510.74 L432.12 515.5 L439.12 515.5 M445.08 505.5 L443.48 505.98 L442.41 507.41 L441.88 509.79 L441.88 511.22 L442.41 513.6 L443.48 515.02 L445.08 515.5 L446.16 515.5 L447.76 515.02 L448.83 513.6 L449.37 511.22 L449.37 509.79 L448.83 507.41 L447.76 505.98 L446.16 505.5 L445.08 505.5" fill="none" stroke="#000" stroke-width="1" shape-rendering="crispEdges"/>
<path d="M432.62 520.88 L432.62 520.41 L433.12 519.46 L433.62 518.98 L434.62 518.5 L436.62 518.5 L437.62 518.98 L438.12 519.46 L438.62 520.41 L438.62 521.36 L438.12 522.31 L437.12 523.74 L432.12 528.5 L439.12 528.5 M443.12 518.5 L448.62 518.5 L445.62 522.31 L447.12 522.31 L448.12 522.79 L448.62 523.26 L449.12 524.69 L449.12 525.64 L448.62 527.07 L447.62 528.02 L446.12 528.5 L444.62 528.5 L443.12 528.02 L442.62 527.55 L442.12 526.6" fill="none" stroke="#000" stroke-width="1" shape-rendering="crispEdges"/>
<path d="M507.23 505.5 L505.62 505.98 L504.55 507.41 L504.02 509.79 L504.02 511.22 L504.55 513.6 L505.62 515.02 L507.23 515.5 L508.3 515.5 L509.9 515.02 L510.97 513.6 L511.51 511.22 L511.51 509.79 L510.97 507.41 L509.9 505.98 L508.3 505.5 L507.23 505.5 M517.23 505.5 L515.62 505.98 L514.55 507.41 L514.02 509.79 L514.02 511.22 L514.55 513.6 L515.62 515.02 L517.23 515.5 L518.3 515.5 L519.9 515.02 L520.97 513.6 L521.51 511.22 L521.51 509.79 L520.97 507.41 L519.9 505.98 L518.3 505.5 L517.23 505.5" fill="none" stroke="#000" stroke-width="1" shape-rendering="crispEdges"/>
<path d="M507.23 518.5 L505.62 518.98 L504.55 520.41 L504.02 522.79 L504.02 524.22 L504.55 526.6 L505.62 528.02 L507.23 528.5 L508.3 528.5 L509.9 528.02 L510.97 526.6 L511.51 524.22 L511.51 522.79 L510.97 520.41 L509.9 518.98 L508.3 518.5 L507.23 518.5 M515.26 518.5 L520.76 518.5 L517.76 522.31 L519.26 522.31 L520.26 522.79 L520.76 523.26 L521.26 524.69 L521.26 525.64 L520.76 527.07 L519.76 528.02 L518.26 528.5 L516.76 528.5 L515.26 528.02 L514.76 527.55 L514.26 526.6" fill="none" stroke="#000" stroke-width="1" shape-rendering="crispEdges"/>
<path d="M579.37 505.5 L577.77 505.98 L576.7 507.41 L576.16 509.79 L576.16 511.22 L576.7 513.6 L577.77 515.02 L579.37 515.5 L580.44 515.5 L582.05 515.02 L583.12 513.6 L583.65 511.22 L583.65 509.79 L583.12 507.41 L582.05 505.98 L580.44 505.5 L579.37 505.5 M591.41 505.5 L586.41 512.17 L593.91 512.17 M591.41 505.5 L591.41 515.5" fill="none" stroke="#000" stroke-width="1" shape-rendering="crispEdges"/>
<path d="M579.37 518.5 L577.77 518.98 L576.7 520.41 L576.16 522.79 L576.16 524.22 L576.7 526.6 L577.77 528.02 L579.37 528.5 L580.44 528.5 L582.05 528.02 L583.12 526.6 L583.65 524.22 L583.65 522.79 L583.12 520.41 L582.05 518.98 L580.44 518.5 L579.37 518.5 M593.41 518.5 L588.41 528.5 M586.41 518.5 L593.41 518.5" fill="none" stroke="#000" stroke-width="1" shape-rendering="crispEdges"/>
<path d="M39 506.29 L39 512.51 L39.45 513.75 L40.35 514.59 L41.7 515 L42.6 515 L43.95 514.59 L44.85 513.75 L45.3 512.51 L45.3 506.29 M50.7 506.29 L50.7 515 M47.55 506.29 L53.85 506.29" fill="none" stroke="#000" stroke-width="2" shape-rendering="crispEdges"/>
<path d="M38.98 520.1 L38.98 528.5 M38.98 520.1 L42.54 528.5 M46.1 520.1 L42.54 528.5 M46.1 520.1 L46.1 528.5 M55.45 521.3 L54.56 520.5 L53.22 520.1 L51.44 520.1 L50.11 520.5 L49.22 521.3 L49.22 522.1 L49.66 522.9 L50.11 523.3 L51 523.7 L53.67 524.5 L54.56 524.9 L55 525.3 L55.45 526.1 L55.45 527.3 L54.56 528.1 L53.22 528.5 L51.44 528.5 L50.11 528.1 L49.22 527.3 M58.56 520.1 L58.56 528.5 M64.79 520.1 L58.56 525.7 M60.79 523.7 L64.79 528.5" fill="none" stroke="#000" stroke-width="2" shape-rendering="crispEdges"/>
<path d="M604.42 507.19 L605.26 506.76 L606.52 505.47 L606.52 514.5 M617.02 508.48 L616.6 509.77 L615.76 510.63 L614.5 511.06 L614.08 511.06 L612.82 510.63 L611.98 509.77 L611.56 508.48 L611.56 508.05 L611.98 506.76 L612.82 505.9 L614.08 505.47 L614.5 505.47 L615.76 505.9 L616.6 506.76 L617.02 508.48 L617.02 510.63 L616.6 512.78 L615.76 514.07 L614.5 514.5 L613.66 514.5 L612.4 514.07 L611.98 513.21 M620.8 513.64 L620.38 514.07 L620.8 514.5 L621.22 514.07 L620.8 513.64 M625.42 507.19 L626.26 506.76 L627.52 505.47 L627.52 514.5 M632.98 507.62 L632.98 507.19 L633.4 506.33 L633.82 505.9 L634.66 505.47 L636.34 505.47 L637.18 505.9 L637.6 506.33 L638.02 507.19 L638.02 508.05 L637.6 508.91 L636.76 510.2 L632.56 514.5 L638.44 514.5 M640.54 510.63 L649.78 510.63 M652.3 507.62 L652.3 507.19 L652.72 506.33 L653.14 505.9 L653.98 505.47 L655.66 505.47 L656.5 505.9 L656.92 506.33 L657.34 507.19 L657.34 508.05 L656.92 508.91 L656.08 510.2 L651.88 514.5 L657.76 514.5 M662.77 505.47 L661.42 505.9 L660.52 507.19 L660.07 509.34 L660.07 510.63 L660.52 512.78 L661.42 514.07 L662.77 514.5 L663.67 514.5 L665.02 514.07 L665.92 512.78 L666.37 510.63 L666.37 509.34 L665.92 507.19 L665.02 505.9 L663.67 505.47 L662.77 505.47 M669.52 513.64 L669.1 514.07 L669.52 514.5 L669.94 514.07 L669.52 513.64 M674.14 507.19 L674.98 506.76 L676.24 505.47 L676.24 514.5 M681.7 507.62 L681.7 507.19 L682.12 506.33 L682.54 505.9 L683.38 505.47 L685.06 505.47 L685.9 505.9 L686.32 506.33 L686.74 507.19 L686.74 508.05 L686.32 508.91 L685.48 510.2 L681.28 514.5 L687.16 514.5 M690.52 513.64 L690.1 514.07 L690.52 514.5 L690.94 514.07 L690.52 513.64 M694.3 507.62 L694.3 507.19 L694.72 506.33 L695.14 505.9 L695.98 505.47 L697.66 505.47 L698.5 505.9 L698.92 506.33 L699.34 507.19 L699.34 508.05 L698.92 508.91 L698.08 510.2 L693.88 514.5 L699.76 514.5 M704.77 505.47 L703.42 505.9 L702.52 507.19 L702.07 509.34 L702.07 510.63 L702.52 512.78 L703.42 514.07 L704.77 514.5 L705.67 514.5 L707.02 514.07 L707.92 512.78 L708.37 510.63 L708.37 509.34 L707.92 507.19 L707.02 505.9 L705.67 505.47 L704.77 505.47 M711.1 507.62 L711.1 507.19 L711.52 506.33 L711.94 505.9 L712.78 505.47 L714.46 505.47 L715.3 505.9 L715.72 506.33 L716.14 507.19 L716.14 508.05 L715.72 508.91 L714.88 510.2 L710.68 514.5 L716.56 514.5 M724.12 505.47 L719.92 505.47 L719.5 509.34 L719.92 508.91 L721.18 508.48 L722.44 508.48 L723.7 508.91 L724.54 509.77 L724.96 511.06 L724.96 511.92 L724.54 513.21 L723.7 514.07 L722.44 514.5 L721.18 514.5 L719.92 514.07 L719.5 513.64 L719.08 512.78" fill="none" stroke="#000" stroke-width="1" shape-rendering="crispEdges"/>
<path d="M604.42 521.19 L605.26 520.76 L606.52 519.47 L606.52 528.5 M617.02 522.48 L616.6 523.77 L615.76 524.63 L614.5 525.06 L614.08 525.06 L612.82 524.63 L611.98 523.77 L611.56 522.48 L611.56 522.05 L611.98 520.76 L612.82 519.9 L614.08 519.47 L614.5 519.47 L615.76 519.9 L616.6 520.76 L617.02 522.48 L617.02 524.63 L616.6 526.78 L615.76 528.07 L614.5 528.5 L613.66 528.5 L612.4 528.07 L611.98 527.21 M620.8 527.64 L620.38 528.07 L620.8 528.5 L621.22 528.07 L620.8 527.64 M625.42 521.19 L626.26 520.76 L627.52 519.47 L627.52 528.5 M632.98 521.62 L632.98 521.19 L633.4 520.33 L633.82 519.9 L634.66 519.47 L636.34 519.47 L637.18 519.9 L637.6 520.33 L638.02 521.19 L638.02 522.05 L637.6 522.91 L636.76 524.2 L632.56 528.5 L638.44 528.5 M640.54 524.63 L649.78 524.63 M652.3 521.62 L652.3 521.19 L652.72 520.33 L653.14 519.9 L653.98 519.47 L655.66 519.47 L656.5 519.9 L656.92 520.33 L657.34 521.19 L657.34 522.05 L656.92 522.91 L656.08 524.2 L651.88 528.5 L657.76 528.5 M662.77 519.47 L661.42 519.9 L660.52 521.19 L660.07 523.34 L660.07 524.63 L660.52 526.78 L661.42 528.07 L662.77 528.5 L663.67 528.5 L665.02 528.07 L665.92 526.78 L666.37 524.63 L666.37 523.34 L665.92 521.19 L665.02 519.9 L663.67 519.47 L662.77 519.47 M669.52 527.64 L669.1 528.07 L669.52 528.5 L669.94 528.07 L669.52 527.64 M674.14 521.19 L674.98 520.76 L676.24 519.47 L676.24 528.5 M681.7 521.62 L681.7 521.19 L682.12 520.33 L682.54 519.9 L683.38 519.47 L685.06 519.47 L685.9 519.9 L686.32 520.33 L686.74 521.19 L686.74 522.05 L686.32 522.91 L685.48 524.2 L681.28 528.5 L687.16 528.5 M690.52 527.64 L690.1 528.07 L690.52 528.5 L690.94 528.07 L690.52 527.64 M694.3 521.62 L694.3 521.19 L694.72 520.33 L695.14 519.9 L695.98 519.47 L697.66 519.47 L698.5 519.9 L698.92 520.33 L699.34 521.19 L699.34 522.05 L698.92 522.91 L698.08 524.2 L693.88 528.5 L699.76 528.5 M704.77 519.47 L703.42 519.9 L702.52 521.19 L702.07 523.34 L702.07 524.63 L702.52 526.78 L703.42 528.07 L704.77 528.5 L705.67 528.5 L707.02 528.07 L707.92 526.78 L708.37 524.63 L708.37 523.34 L707.92 521.19 L707.02 519.9 L705.67 519.47 L704.77 519.47 M711.1 521.62 L711.1 521.19 L711.52 520.33 L711.94 519.9 L712.78 519.47 L714.46 519.47 L715.3 519.9 L715.72 520.33 L716.14 521.19 L716.14 522.05 L715.72 522.91 L714.88 524.2 L710.68 528.5 L716.56 528.5 M724.12 519.47 L719.92 519.47 L719.5 523.34 L719.92 522.91 L721.18 522.48 L722.44 522.48 L723.7 522.91 L724.54 523.77 L724.96 525.06 L724.96 525.92 L724.54 527.21 L723.7 528.07 L722.44 528.5 L721.18 528.5 L719.92 528.07 L719.5 527.64 L719.08 526.78" fill="none" stroke="#000" stroke-width="1" shape-rendering="crispEdges"/>
<path d="M142.49 4.5 L142.49 15.5 M142.49 4.5 L149.05 4.5 M142.49 9.74 L146.53 9.74 M153.59 8.16 L152.59 8.69 L151.58 9.74 L151.07 11.31 L151.07 12.36 L151.58 13.93 L152.59 14.98 L153.59 15.5 L155.11 15.5 L156.12 14.98 L157.13 13.93 L157.63 12.36 L157.63 11.31 L157.13 9.74 L156.12 8.69 L155.11 8.16 L153.59 8.16 M161.17 8.16 L161.17 15.5 M161.17 11.31 L161.67 9.74 L162.68 8.69 L163.69 8.16 L165.21 8.16 M167.22 11.31 L173.28 11.31 L173.28 10.26 L172.78 9.21 L172.27 8.69 L171.26 8.16 L169.75 8.16 L168.74 8.69 L167.73 9.74 L167.22 11.31 L167.22 12.36 L167.73 13.93 L168.74 14.98 L169.75 15.5 L171.26 15.5 L172.27 14.98 L173.28 13.93 M182.37 9.74 L181.36 8.69 L180.35 8.16 L178.83 8.16 L177.83 8.69 L176.82 9.74 L176.31 11.31 L176.31 12.36 L176.82 13.93 L177.83 14.98 L178.83 15.5 L180.35 15.5 L181.36 14.98 L182.37 13.93 M191.45 8.16 L191.45 15.5 M191.45 9.74 L190.45 8.69 L189.44 8.16 L187.92 8.16 L186.91 8.69 L185.9 9.74 L185.4 11.31 L185.4 12.36 L185.9 13.93 L186.91 14.98 L187.92 15.5 L189.44 15.5 L190.45 14.98 L191.45 13.93 M200.54 9.74 L200.04 8.69 L198.52 8.16 L197.01 8.16 L195.49 8.69 L194.99 9.74 L195.49 10.78 L196.5 11.31 L199.03 11.83 L200.04 12.36 L200.54 13.4 L200.54 13.93 L200.04 14.98 L198.52 15.5 L197.01 15.5 L195.49 14.98 L194.99 13.93 M204.58 4.5 L204.58 13.4 L205.08 14.98 L206.09 15.5 L207.1 15.5 M203.07 8.16 L206.6 8.16 M220.23 8.16 L219.22 8.69 L218.21 9.74 L217.7 11.31 L217.7 12.36 L218.21 13.93 L219.22 14.98 L220.23 15.5 L221.74 15.5 L222.75 14.98 L223.76 13.93 L224.27 12.36 L224.27 11.31 L223.76 9.74 L222.75 8.69 L221.74 8.16 L220.23 8.16 M230.83 4.5 L229.82 4.5 L228.81 5.02 L228.31 6.59 L228.31 15.5 M226.79 8.16 L230.32 8.16 M247.49 8.16 L247.49 16.55 L246.98 18.12 L246.48 18.64 L245.47 19.17 L243.95 19.17 L242.94 18.64 M247.49 9.74 L246.48 8.69 L245.47 8.16 L243.95 8.16 L242.94 8.69 L241.93 9.74 L241.43 11.31 L241.43 12.36 L241.93 13.93 L242.94 14.98 L243.95 15.5 L245.47 15.5 L246.48 14.98 L247.49 13.93 M251.02 11.31 L257.08 11.31 L257.08 10.26 L256.57 9.21 L256.07 8.69 L255.06 8.16 L253.55 8.16 L252.54 8.69 L251.53 9.74 L251.02 11.31 L251.02 12.36 L251.53 13.93 L252.54 14.98 L253.55 15.5 L255.06 15.5 L256.07 14.98 L257.08 13.93 M262.63 8.16 L261.62 8.69 L260.61 9.74 L260.11 11.31 L260.11 12.36 L260.61 13.93 L261.62 14.98 L262.63 15.5 L264.15 15.5 L265.16 14.98 L266.17 13.93 L266.67 12.36 L266.67 11.31 L266.17 9.74 L265.16 8.69 L264.15 8.16 L262.63 8.16 M270.2 8.16 L270.2 15.5 M270.2 10.26 L271.72 8.69 L272.73 8.16 L274.24 8.16 L275.25 8.69 L275.76 10.26 L275.76 15.5 M275.76 10.26 L277.27 8.69 L278.28 8.16 L279.79 8.16 L280.8 8.69 L281.31 10.26 L281.31 15.5 M290.9 8.16 L290.9 15.5 M290.9 9.74 L289.89 8.69 L288.88 8.16 L287.37 8.16 L286.36 8.69 L285.35 9.74 L284.84 11.31 L284.84 12.36 L285.35 13.93 L286.36 14.98 L287.37 15.5 L288.88 15.5 L289.89 14.98 L290.9 13.93 M300.49 8.16 L300.49 16.55 L299.99 18.12 L299.48 18.64 L298.47 19.17 L296.96 19.17 L295.95 18.64 M300.49 9.74 L299.48 8.69 L298.47 8.16 L296.96 8.16 L295.95 8.69 L294.94 9.74 L294.43 11.31 L294.43 12.36 L294.94 13.93 L295.95 14.98 L296.96 15.5 L298.47 15.5 L299.48 14.98 L300.49 13.93 M304.53 8.16 L304.53 15.5 M304.53 10.26 L306.04 8.69 L307.05 8.16 L308.57 8.16 L309.58 8.69 L310.08 10.26 L310.08 15.5 M313.62 11.31 L319.67 11.31 L319.67 10.26 L319.17 9.21 L318.66 8.69 L317.65 8.16 L316.14 8.16 L315.13 8.69 L314.12 9.74 L313.62 11.31 L313.62 12.36 L314.12 13.93 L315.13 14.98 L316.14 15.5 L317.65 15.5 L318.66 14.98 L319.67 13.93 M323.71 4.5 L323.71 13.4 L324.22 14.98 L325.23 15.5 L326.24 15.5 M322.2 8.16 L325.73 8.16 M328.76 4.5 L329.27 5.02 L329.77 4.5 L329.27 3.97 L328.76 4.5 M329.27 8.16 L329.27 15.5 M338.86 9.74 L337.85 8.69 L336.84 8.16 L335.32 8.16 L334.31 8.69 L333.3 9.74 L332.8 11.31 L332.8 12.36 L333.3 13.93 L334.31 14.98 L335.32 15.5 L336.84 15.5 L337.85 14.98 L338.86 13.93 M355.51 9.74 L355.01 8.69 L353.5 8.16 L351.98 8.16 L350.47 8.69 L349.96 9.74 L350.47 10.78 L351.48 11.31 L354 11.83 L355.01 12.36 L355.51 13.4 L355.51 13.93 L355.01 14.98 L353.5 15.5 L351.98 15.5 L350.47 14.98 L349.96 13.93 M359.55 4.5 L359.55 13.4 L360.06 14.98 L361.07 15.5 L362.08 15.5 M358.04 8.16 L361.57 8.16 M367.13 8.16 L366.12 8.69 L365.11 9.74 L364.6 11.31 L364.6 12.36 L365.11 13.93 L366.12 14.98 L367.13 15.5 L368.64 15.5 L369.65 14.98 L370.66 13.93 L371.16 12.36 L371.16 11.31 L370.66 9.74 L369.65 8.69 L368.64 8.16 L367.13 8.16 M374.7 8.16 L374.7 15.5 M374.7 11.31 L375.2 9.74 L376.21 8.69 L377.22 8.16 L378.74 8.16 M381.26 8.16 L381.26 15.5 M381.26 10.26 L382.77 8.69 L383.78 8.16 L385.3 8.16 L386.31 8.69 L386.81 10.26 L386.81 15.5 M386.81 10.26 L388.33 8.69 L389.34 8.16 L390.85 8.16 L391.86 8.69 L392.37 10.26 L392.37 15.5 M410.03 8.16 L410.03 15.5 M410.03 9.74 L409.02 8.69 L408.01 8.16 L406.5 8.16 L405.49 8.69 L404.48 9.74 L403.98 11.31 L403.98 12.36 L404.48 13.93 L405.49 14.98 L406.5 15.5 L408.01 15.5 L409.02 14.98 L410.03 13.93 M414.07 8.16 L414.07 15.5 M414.07 10.26 L415.59 8.69 L416.6 8.16 L418.11 8.16 L419.12 8.69 L419.62 10.26 L419.62 15.5 M429.22 4.5 L429.22 15.5 M429.22 9.74 L428.21 8.69 L427.2 8.16 L425.68 8.16 L424.67 8.69 L423.66 9.74 L423.16 11.31 L423.16 12.36 L423.66 13.93 L424.67 14.98 L425.68 15.5 L427.2 15.5 L428.21 14.98 L429.22 13.93 M441.33 4.5 L441.33 15.5 M441.33 4.5 L444.86 4.5 L446.38 5.02 L447.39 6.07 L447.89 7.12 L448.4 8.69 L448.4 11.31 L447.89 12.88 L447.39 13.93 L446.38 14.98 L444.86 15.5 L441.33 15.5 M456.98 9.74 L456.47 8.69 L454.96 8.16 L453.45 8.16 L451.93 8.69 L451.43 9.74 L451.93 10.78 L452.94 11.31 L455.47 11.83 L456.47 12.36 L456.98 13.4 L456.98 13.93 L456.47 14.98 L454.96 15.5 L453.45 15.5 L451.93 14.98 L451.43 13.93 M461.02 4.5 L461.02 13.4 L461.52 14.98 L462.53 15.5 L463.54 15.5 M459.5 8.16 L463.04 8.16 M474.14 4.5 L474.65 5.02 L475.15 4.5 L474.65 3.97 L474.14 4.5 M474.65 8.16 L474.65 15.5 M478.69 8.16 L478.69 15.5 M478.69 10.26 L480.2 8.69 L481.21 8.16 L482.72 8.16 L483.73 8.69 L484.24 10.26 L484.24 15.5 M493.83 4.5 L493.83 15.5 M493.83 9.74 L492.82 8.69 L491.81 8.16 L490.3 8.16 L489.29 8.69 L488.28 9.74 L487.77 11.31 L487.77 12.36 L488.28 13.93 L489.29 14.98 L490.3 15.5 L491.81 15.5 L492.82 14.98 L493.83 13.93 M497.36 11.31 L503.42 11.31 L503.42 10.26 L502.92 9.21 L502.41 8.69 L501.4 8.16 L499.89 8.16 L498.88 8.69 L497.87 9.74 L497.36 11.31 L497.36 12.36 L497.87 13.93 L498.88 14.98 L499.89 15.5 L501.4 15.5 L502.41 14.98 L503.42 13.93 M506.45 8.16 L512 15.5 M512 8.16 L506.45 15.5" fill="none" stroke="#000" stroke-width="1" shape-rendering="crispEdges"/>
<path d="M224.67 22.5 L223.66 22.5 L222.64 23.02 L222.13 24.59 L222.13 33.5 M220.61 26.16 L224.16 26.16 M229.74 26.16 L228.73 26.69 L227.71 27.74 L227.2 29.31 L227.2 30.36 L227.71 31.93 L228.73 32.98 L229.74 33.5 L231.26 33.5 L232.28 32.98 L233.29 31.93 L233.8 30.36 L233.8 29.31 L233.29 27.74 L232.28 26.69 L231.26 26.16 L229.74 26.16 M237.34 26.16 L237.34 33.5 M237.34 29.31 L237.85 27.74 L238.87 26.69 L239.88 26.16 L241.4 26.16 M252.56 22.5 L252.56 31.4 L253.06 32.98 L254.08 33.5 L255.09 33.5 M251.03 26.16 L254.58 26.16 M258.13 22.5 L258.13 33.5 M258.13 28.26 L259.65 26.69 L260.67 26.16 L262.19 26.16 L263.2 26.69 L263.71 28.26 L263.71 33.5 M267.26 29.31 L273.34 29.31 L273.34 28.26 L272.83 27.21 L272.33 26.69 L271.31 26.16 L269.79 26.16 L268.78 26.69 L267.76 27.74 L267.26 29.31 L267.26 30.36 L267.76 31.93 L268.78 32.98 L269.79 33.5 L271.31 33.5 L272.33 32.98 L273.34 31.93 M285 26.16 L285 33.5 M285 28.26 L286.52 26.69 L287.54 26.16 L289.06 26.16 L290.07 26.69 L290.58 28.26 L290.58 33.5 M294.13 29.31 L300.21 29.31 L300.21 28.26 L299.71 27.21 L299.2 26.69 L298.19 26.16 L296.66 26.16 L295.65 26.69 L294.64 27.74 L294.13 29.31 L294.13 30.36 L294.64 31.93 L295.65 32.98 L296.66 33.5 L298.19 33.5 L299.2 32.98 L300.21 31.93 M303.25 26.16 L308.83 33.5 M308.83 26.16 L303.25 33.5 M312.89 22.5 L312.89 31.4 L313.39 32.98 L314.41 33.5 L315.42 33.5 M311.37 26.16 L314.92 26.16 M331.65 27.74 L331.14 26.69 L329.62 26.16 L328.1 26.16 L326.58 26.69 L326.07 27.74 L326.58 28.78 L327.59 29.31 L330.13 29.83 L331.14 30.36 L331.65 31.4 L331.65 31.93 L331.14 32.98 L329.62 33.5 L328.1 33.5 L326.58 32.98 L326.07 31.93 M334.69 29.31 L340.77 29.31 L340.77 28.26 L340.27 27.21 L339.76 26.69 L338.75 26.16 L337.22 26.16 L336.21 26.69 L335.2 27.74 L334.69 29.31 L334.69 30.36 L335.2 31.93 L336.21 32.98 L337.22 33.5 L338.75 33.5 L339.76 32.98 L340.77 31.93 M343.31 26.16 L346.35 33.5 M349.39 26.16 L346.35 33.5 M351.93 29.31 L358.01 29.31 L358.01 28.26 L357.5 27.21 L357 26.69 L355.98 26.16 L354.46 26.16 L353.45 26.69 L352.43 27.74 L351.93 29.31 L351.93 30.36 L352.43 31.93 L353.45 32.98 L354.46 33.5 L355.98 33.5 L357 32.98 L358.01 31.93 M361.56 26.16 L361.56 33.5 M361.56 29.31 L362.07 27.74 L363.08 26.69 L364.1 26.16 L365.62 26.16 M373.73 26.16 L373.73 33.5 M373.73 27.74 L372.71 26.69 L371.7 26.16 L370.18 26.16 L369.16 26.69 L368.15 27.74 L367.64 29.31 L367.64 30.36 L368.15 31.93 L369.16 32.98 L370.18 33.5 L371.7 33.5 L372.71 32.98 L373.73 31.93 M377.78 22.5 L377.78 33.5 M389.95 22.5 L389.95 33.5 M389.95 28.26 L391.47 26.69 L392.49 26.16 L394.01 26.16 L395.02 26.69 L395.53 28.26 L395.53 33.5 M401.61 26.16 L400.6 26.69 L399.59 27.74 L399.08 29.31 L399.08 30.36 L399.59 31.93 L400.6 32.98 L401.61 33.5 L403.13 33.5 L404.15 32.98 L405.16 31.93 L405.67 30.36 L405.67 29.31 L405.16 27.74 L404.15 26.69 L403.13 26.16 L401.61 26.16 M409.22 26.16 L409.22 31.4 L409.73 32.98 L410.74 33.5 L412.26 33.5 L413.27 32.98 L414.79 31.4 M414.79 26.16 L414.79 33.5 M418.85 26.16 L418.85 33.5 M418.85 29.31 L419.36 27.74 L420.37 26.69 L421.39 26.16 L422.91 26.16 M430.51 27.74 L430 26.69 L428.48 26.16 L426.96 26.16 L425.44 26.69 L424.94 27.74 L425.44 28.78 L426.46 29.31 L428.99 29.83 L430 30.36 L430.51 31.4 L430.51 31.93 L430 32.98 L428.48 33.5 L426.96 33.5 L425.44 32.98 L424.94 31.93" fill="none" stroke="#000" stroke-width="1" shape-rendering="crispEdges"/>
<path d="M241.31 42.16 L243.34 49.5 M245.36 42.16 L243.34 49.5 M245.36 42.16 L247.38 49.5 M249.4 42.16 L247.38 49.5 M252.43 42.16 L254.45 49.5 M256.47 42.16 L254.45 49.5 M256.47 42.16 L258.49 49.5 M260.5 42.16 L258.49 49.5 M263.54 42.16 L265.56 49.5 M267.57 42.16 L265.56 49.5 M267.57 42.16 L269.6 49.5 M271.62 42.16 L269.6 49.5 M275.66 48.45 L275.15 48.98 L275.66 49.5 L276.16 48.98 L275.66 48.45 M285.25 43.74 L284.75 42.69 L283.23 42.16 L281.72 42.16 L280.2 42.69 L279.69 43.74 L280.2 44.78 L281.21 45.31 L283.74 45.83 L284.75 46.36 L285.25 47.4 L285.25 47.93 L284.75 48.98 L283.23 49.5 L281.72 49.5 L280.2 48.98 L279.69 47.93 M288.79 42.16 L288.79 53.17 M288.79 43.74 L289.8 42.69 L290.81 42.16 L292.32 42.16 L293.33 42.69 L294.34 43.74 L294.85 45.31 L294.85 46.36 L294.34 47.93 L293.33 48.98 L292.32 49.5 L290.81 49.5 L289.8 48.98 L288.79 47.93 M303.94 42.16 L303.94 49.5 M303.94 43.74 L302.93 42.69 L301.92 42.16 L300.4 42.16 L299.39 42.69 L298.38 43.74 L297.88 45.31 L297.88 46.36 L298.38 47.93 L299.39 48.98 L300.4 49.5 L301.92 49.5 L302.93 48.98 L303.94 47.93 M313.53 43.74 L312.52 42.69 L311.51 42.16 L310 42.16 L308.99 42.69 L307.98 43.74 L307.47 45.31 L307.47 46.36 L307.98 47.93 L308.99 48.98 L310 49.5 L311.51 49.5 L312.52 48.98 L313.53 47.93 M316.56 45.31 L322.62 45.31 L322.62 44.26 L322.12 43.21 L321.61 42.69 L320.6 42.16 L319.09 42.16 L318.08 42.69 L317.06 43.74 L316.56 45.31 L316.56 46.36 L317.06 47.93 L318.08 48.98 L319.09 49.5 L320.6 49.5 L321.61 48.98 L322.62 47.93 M325.65 42.16 L327.67 49.5 M329.69 42.16 L327.67 49.5 M329.69 42.16 L331.71 49.5 M333.73 42.16 L331.71 49.5 M336.76 45.31 L342.82 45.31 L342.82 44.26 L342.31 43.21 L341.81 42.69 L340.8 42.16 L339.29 42.16 L338.27 42.69 L337.26 43.74 L336.76 45.31 L336.76 46.36 L337.26 47.93 L338.27 48.98 L339.29 49.5 L340.8 49.5 L341.81 48.98 L342.82 47.93 M351.91 42.16 L351.91 49.5 M351.91 43.74 L350.9 42.69 L349.89 42.16 L348.38 42.16 L347.37 42.69 L346.36 43.74 L345.85 45.31 L345.85 46.36 L346.36 47.93 L347.37 48.98 L348.38 49.5 L349.89 49.5 L350.9 48.98 L351.91 47.93 M356.46 38.5 L356.46 47.4 L356.96 48.98 L357.97 49.5 L358.98 49.5 M354.94 42.16 L358.48 42.16 M362.01 38.5 L362.01 49.5 M362.01 44.26 L363.52 42.69 L364.54 42.16 L366.05 42.16 L367.06 42.69 L367.56 44.26 L367.56 49.5 M371.1 45.31 L377.16 45.31 L377.16 44.26 L376.65 43.21 L376.15 42.69 L375.14 42.16 L373.62 42.16 L372.62 42.69 L371.61 43.74 L371.1 45.31 L371.1 46.36 L371.61 47.93 L372.62 48.98 L373.62 49.5 L375.14 49.5 L376.15 48.98 L377.16 47.93 M380.7 42.16 L380.7 49.5 M380.7 45.31 L381.2 43.74 L382.21 42.69 L383.22 42.16 L384.74 42.16 M387.76 48.45 L387.26 48.98 L387.76 49.5 L388.27 48.98 L387.76 48.45 M392.31 42.16 L392.31 49.5 M392.31 45.31 L392.82 43.74 L393.83 42.69 L394.84 42.16 L396.35 42.16 M398.88 42.16 L398.88 47.4 L399.38 48.98 L400.39 49.5 L401.9 49.5 L402.92 48.98 L404.43 47.4 M404.43 42.16 L404.43 49.5" fill="none" stroke="#000" stroke-width="1" shape-rendering="crispEdges"/>
<path d="M636.27 6.07 L635.26 5.02 L633.75 4.5 L631.73 4.5 L630.22 5.02 L629.21 6.07 L629.21 7.12 L629.72 8.16 L630.22 8.69 L631.23 9.21 L634.25 10.26 L635.26 10.78 L635.76 11.31 L636.27 12.36 L636.27 13.93 L635.26 14.98 L633.75 15.5 L631.73 15.5 L630.22 14.98 L629.21 13.93 M640.3 4.5 L640.3 13.4 L640.8 14.98 L641.81 15.5 L642.82 15.5 M638.79 8.16 L642.32 8.16 M647.86 8.16 L646.85 8.69 L645.84 9.74 L645.34 11.31 L645.34 12.36 L645.84 13.93 L646.85 14.98 L647.86 15.5 L649.37 15.5 L650.38 14.98 L651.39 13.93 L651.89 12.36 L651.89 11.31 L651.39 9.74 L650.38 8.69 L649.37 8.16 L647.86 8.16 M655.42 8.16 L655.42 15.5 M655.42 11.31 L655.92 9.74 L656.93 8.69 L657.94 8.16 L659.45 8.16 M661.97 8.16 L661.97 15.5 M661.97 10.26 L663.48 8.69 L664.49 8.16 L666 8.16 L667.01 8.69 L667.52 10.26 L667.52 15.5 M667.52 10.26 L669.03 8.69 L670.04 8.16 L671.55 8.16 L672.56 8.69 L673.06 10.26 L673.06 15.5 M677.09 4.5 L677.09 15.5 M677.09 4.5 L683.64 4.5 M677.09 9.74 L681.12 9.74 M688.18 8.16 L687.17 8.69 L686.16 9.74 L685.66 11.31 L685.66 12.36 L686.16 13.93 L687.17 14.98 L688.18 15.5 L689.69 15.5 L690.7 14.98 L691.71 13.93 L692.21 12.36 L692.21 11.31 L691.71 9.74 L690.7 8.69 L689.69 8.16 L688.18 8.16 M701.28 9.74 L700.28 8.69 L699.27 8.16 L697.76 8.16 L696.75 8.69 L695.74 9.74 L695.24 11.31 L695.24 12.36 L695.74 13.93 L696.75 14.98 L697.76 15.5 L699.27 15.5 L700.28 14.98 L701.28 13.93 M704.81 8.16 L704.81 13.4 L705.32 14.98 L706.32 15.5 L707.84 15.5 L708.84 14.98 L710.36 13.4 M710.36 8.16 L710.36 15.5 M719.43 9.74 L718.92 8.69 L717.41 8.16 L715.9 8.16 L714.39 8.69 L713.88 9.74 L714.39 10.78 L715.4 11.31 L717.92 11.83 L718.92 12.36 L719.43 13.4 L719.43 13.93 L718.92 14.98 L717.41 15.5 L715.9 15.5 L714.39 14.98 L713.88 13.93" fill="none" stroke="#000" stroke-width="1" shape-rendering="crispEdges"/>
<rect x="80" y="52" width="41" height="25" fill="#0000ff"/>
<path d="M127.35 65.5 L126.34 66.02 L125.33 67.07 L124.82 68.12 L124.32 69.69 L124.32 72.31 L124.82 73.88 L125.33 74.93 L126.34 75.98 L127.35 76.5 L129.38 76.5 L130.39 75.98 L131.4 74.93 L131.91 73.88 L132.41 72.31 L132.41 69.69 L131.91 68.12 L131.4 67.07 L130.39 66.02 L129.38 65.5 L127.35 65.5 M128.87 74.4 L131.91 77.55 M135.96 69.16 L135.96 74.4 L136.46 75.98 L137.47 76.5 L138.99 76.5 L140 75.98 L141.52 74.4 M141.52 69.16 L141.52 76.5 M145.06 65.5 L145.57 66.02 L146.08 65.5 L145.57 64.97 L145.06 65.5 M145.57 69.16 L145.57 76.5 M149.11 72.31 L155.18 72.31 L155.18 71.26 L154.68 70.21 L154.17 69.69 L153.16 69.16 L151.64 69.16 L150.63 69.69 L149.62 70.74 L149.11 72.31 L149.11 73.36 L149.62 74.93 L150.63 75.98 L151.64 76.5 L153.16 76.5 L154.17 75.98 L155.18 74.93 M159.23 65.5 L159.23 74.4 L159.74 75.98 L160.75 76.5 L161.76 76.5 M157.71 69.16 L161.26 69.16 M165.81 75.98 L165.3 76.5 L164.8 75.98 L165.3 75.45 L165.81 75.98 L165.81 77.55 L165.3 79.12 L164.29 80.17 M177.45 72.31 L183.52 72.31 L183.52 71.26 L183.01 70.21 L182.51 69.69 L181.5 69.16 L179.98 69.16 L178.97 69.69 L177.95 70.74 L177.45 72.31 L177.45 73.36 L177.95 74.93 L178.97 75.98 L179.98 76.5 L181.5 76.5 L182.51 75.98 L183.52 74.93 M186.56 69.16 L192.12 76.5 M192.12 69.16 L186.56 76.5 M195.66 69.16 L195.66 80.17 M195.66 70.74 L196.68 69.69 L197.69 69.16 L199.21 69.16 L200.22 69.69 L201.23 70.74 L201.74 72.31 L201.74 73.36 L201.23 74.93 L200.22 75.98 L199.21 76.5 L197.69 76.5 L196.68 75.98 L195.66 74.93 M204.77 72.31 L210.84 72.31 L210.84 71.26 L210.34 70.21 L209.83 69.69 L208.82 69.16 L207.3 69.16 L206.29 69.69 L205.28 70.74 L204.77 72.31 L204.77 73.36 L205.28 74.93 L206.29 75.98 L207.3 76.5 L208.82 76.5 L209.83 75.98 L210.84 74.93 M219.95 70.74 L218.94 69.69 L217.93 69.16 L216.41 69.16 L215.4 69.69 L214.39 70.74 L213.88 72.31 L213.88 73.36 L214.39 74.93 L215.4 75.98 L216.41 76.5 L217.93 76.5 L218.94 75.98 L219.95 74.93 M224 65.5 L224 74.4 L224.51 75.98 L225.52 76.5 L226.53 76.5 M222.48 69.16 L226.02 69.16 M229.06 72.31 L235.13 72.31 L235.13 71.26 L234.63 70.21 L234.12 69.69 L233.11 69.16 L231.59 69.16 L230.58 69.69 L229.57 70.74 L229.06 72.31 L229.06 73.36 L229.57 74.93 L230.58 75.98 L231.59 76.5 L233.11 76.5 L234.12 75.98 L235.13 74.93 M244.24 65.5 L244.24 76.5 M244.24 70.74 L243.23 69.69 L242.22 69.16 L240.7 69.16 L239.69 69.69 L238.67 70.74 L238.17 72.31 L238.17 73.36 L238.67 74.93 L239.69 75.98 L240.7 76.5 L242.22 76.5 L243.23 75.98 L244.24 74.93 M256.38 69.16 L256.38 76.5 M256.38 71.26 L257.9 69.69 L258.91 69.16 L260.43 69.16 L261.44 69.69 L261.95 71.26 L261.95 76.5 M261.95 71.26 L263.47 69.69 L264.48 69.16 L266 69.16 L267.01 69.69 L267.52 71.26 L267.52 76.5 M271.06 65.5 L271.56 66.02 L272.07 65.5 L271.56 64.97 L271.06 65.5 M271.56 69.16 L271.56 76.5 M275.61 69.16 L275.61 76.5 M275.61 71.26 L277.13 69.69 L278.14 69.16 L279.66 69.16 L280.67 69.69 L281.18 71.26 L281.18 76.5 M293.32 65.5 L293.32 76.5 M293.32 65.5 L296.86 65.5 L298.38 66.02 L299.39 67.07 L299.9 68.12 L300.41 69.69 L300.41 72.31 L299.9 73.88 L299.39 74.93 L298.38 75.98 L296.86 76.5 L293.32 76.5 M309.01 70.74 L308.5 69.69 L306.98 69.16 L305.47 69.16 L303.95 69.69 L303.44 70.74 L303.95 71.78 L304.96 72.31 L307.49 72.83 L308.5 73.36 L309.01 74.4 L309.01 74.93 L308.5 75.98 L306.98 76.5 L305.47 76.5 L303.95 75.98 L303.44 74.93 M313.06 65.5 L313.06 74.4 L313.56 75.98 L314.57 76.5 L315.59 76.5 M311.54 69.16 L315.08 69.16 M319.13 69.16 L318.62 69.69 L319.13 70.21 L319.63 69.69 L319.13 69.16 M319.13 75.45 L318.62 75.98 L319.13 76.5 L319.63 75.98 L319.13 75.45 M330.77 71.78 L341.9 71.78 M351.51 65.5 L346.45 76.5 M344.43 65.5 L351.51 65.5 M363.15 69.16 L363.15 76.5 M363.15 71.26 L364.67 69.69 L365.68 69.16 L367.2 69.16 L368.21 69.69 L368.72 71.26 L368.72 76.5 M374.79 65.5 L374.79 76.5 M371.25 65.5 L378.33 65.5" fill="none" stroke="#000" stroke-width="1" shape-rendering="crispEdges"/>
<path d="M600 95.5H623" stroke="#0000ff" stroke-width="1" shape-rendering="crispEdges"/>
<rect x="597" y="93" width="6" height="6" fill="#0000ff"/><rect x="620" y="93" width="7" height="6" fill="#0000ff"/>
<path d="M631.86 89.47 L631.86 98.5 M628.92 89.47 L634.8 89.47 M636.9 89.47 L636.9 98.5 M636.9 94.2 L638.16 92.91 L639 92.48 L640.26 92.48 L641.1 92.91 L641.52 94.2 L641.52 98.5 M644.46 95.06 L649.5 95.06 L649.5 94.2 L649.08 93.34 L648.66 92.91 L647.82 92.48 L646.56 92.48 L645.72 92.91 L644.88 93.77 L644.46 95.06 L644.46 95.92 L644.88 97.21 L645.72 98.07 L646.56 98.5 L647.82 98.5 L648.66 98.07 L649.5 97.21 M659.16 89.47 L659.16 98.5 M659.16 89.47 L662.1 89.47 L663.36 89.9 L664.2 90.76 L664.62 91.62 L665.04 92.91 L665.04 95.06 L664.62 96.35 L664.2 97.21 L663.36 98.07 L662.1 98.5 L659.16 98.5 M672.18 93.77 L671.76 92.91 L670.5 92.48 L669.24 92.48 L667.98 92.91 L667.56 93.77 L667.98 94.63 L668.82 95.06 L670.92 95.49 L671.76 95.92 L672.18 96.78 L672.18 97.21 L671.76 98.07 L670.5 98.5 L669.24 98.5 L667.98 98.07 L667.56 97.21 M675.54 89.47 L675.54 96.78 L675.96 98.07 L676.8 98.5 L677.64 98.5 M674.28 92.48 L677.22 92.48 M681 98.07 L680.58 98.5 L680.16 98.07 L680.58 97.64 L681 98.07 L681 99.36 L680.58 100.65 L679.74 101.51 M691.08 89.47 L691.08 98.5 M696.96 89.47 L691.08 95.49 M693.18 93.34 L696.96 98.5 M699.06 92.48 L701.58 98.5 M704.1 92.48 L701.58 98.5 L700.74 100.22 L699.9 101.08 L699.06 101.51 L698.64 101.51 M708.3 92.48 L707.46 92.91 L706.62 93.77 L706.2 95.06 L706.2 95.92 L706.62 97.21 L707.46 98.07 L708.3 98.5 L709.56 98.5 L710.4 98.07 L711.24 97.21 L711.66 95.92 L711.66 95.06 L711.24 93.77 L710.4 92.91 L709.56 92.48 L708.3 92.48 M715.02 89.47 L715.02 96.78 L715.44 98.07 L716.28 98.5 L717.12 98.5 M713.76 92.48 L716.7 92.48 M721.32 92.48 L720.48 92.91 L719.64 93.77 L719.22 95.06 L719.22 95.92 L719.64 97.21 L720.48 98.07 L721.32 98.5 L722.58 98.5 L723.42 98.07 L724.26 97.21 L724.68 95.92 L724.68 95.06 L724.26 93.77 L723.42 92.91 L722.58 92.48 L721.32 92.48" fill="none" stroke="#000" stroke-width="1" shape-rendering="crispEdges"/>
<path d="M599 121.5H623" stroke="#00ffff" stroke-width="1" shape-rendering="crispEdges"/>
<rect x="597" y="120" width="5" height="4" fill="#00ffff"/><rect x="621" y="120" width="5" height="4" fill="#00ffff"/>
<path d="M631.86 116.47 L631.86 125.5 M628.92 116.47 L634.8 116.47 M636.9 116.47 L636.9 125.5 M636.9 121.2 L638.16 119.91 L639 119.48 L640.26 119.48 L641.1 119.91 L641.52 121.2 L641.52 125.5 M644.46 122.06 L649.5 122.06 L649.5 121.2 L649.08 120.34 L648.66 119.91 L647.82 119.48 L646.56 119.48 L645.72 119.91 L644.88 120.77 L644.46 122.06 L644.46 122.92 L644.88 124.21 L645.72 125.07 L646.56 125.5 L647.82 125.5 L648.66 125.07 L649.5 124.21 M659.16 119.48 L659.16 125.5 M659.16 122.06 L659.58 120.77 L660.42 119.91 L661.26 119.48 L662.52 119.48 M664.2 122.06 L669.24 122.06 L669.24 121.2 L668.82 120.34 L668.4 119.91 L667.56 119.48 L666.3 119.48 L665.46 119.91 L664.62 120.77 L664.2 122.06 L664.2 122.92 L664.62 124.21 L665.46 125.07 L666.3 125.5 L667.56 125.5 L668.4 125.07 L669.24 124.21 M676.8 120.77 L675.96 119.91 L675.12 119.48 L673.86 119.48 L673.02 119.91 L672.18 120.77 L671.76 122.06 L671.76 122.92 L672.18 124.21 L673.02 125.07 L673.86 125.5 L675.12 125.5 L675.96 125.07 L676.8 124.21 M681.42 119.48 L680.58 119.91 L679.74 120.77 L679.32 122.06 L679.32 122.92 L679.74 124.21 L680.58 125.07 L681.42 125.5 L682.68 125.5 L683.52 125.07 L684.36 124.21 L684.78 122.92 L684.78 122.06 L684.36 120.77 L683.52 119.91 L682.68 119.48 L681.42 119.48 M686.88 119.48 L689.4 125.5 M691.92 119.48 L689.4 125.5 M694.02 122.06 L699.06 122.06 L699.06 121.2 L698.64 120.34 L698.22 119.91 L697.38 119.48 L696.12 119.48 L695.28 119.91 L694.44 120.77 L694.02 122.06 L694.02 122.92 L694.44 124.21 L695.28 125.07 L696.12 125.5 L697.38 125.5 L698.22 125.07 L699.06 124.21 M702 119.48 L702 125.5 M702 122.06 L702.42 120.77 L703.26 119.91 L704.1 119.48 L705.36 119.48 M707.04 122.06 L712.08 122.06 L712.08 121.2 L711.66 120.34 L711.24 119.91 L710.4 119.48 L709.14 119.48 L708.3 119.91 L707.46 120.77 L707.04 122.06 L707.04 122.92 L707.46 124.21 L708.3 125.07 L709.14 125.5 L710.4 125.5 L711.24 125.07 L712.08 124.21 M719.64 116.47 L719.64 125.5 M719.64 120.77 L718.8 119.91 L717.96 119.48 L716.7 119.48 L715.86 119.91 L715.02 120.77 L714.6 122.06 L714.6 122.92 L715.02 124.21 L715.86 125.07 L716.7 125.5 L717.96 125.5 L718.8 125.07 L719.64 124.21 M729.72 116.47 L729.72 125.5 M729.72 116.47 L732.66 116.47 L733.92 116.9 L734.76 117.76 L735.18 118.62 L735.6 119.91 L735.6 122.06 L735.18 123.35 L734.76 124.21 L733.92 125.07 L732.66 125.5 L729.72 125.5 M742.74 120.77 L742.32 119.91 L741.06 119.48 L739.8 119.48 L738.54 119.91 L738.12 120.77 L738.54 121.63 L739.38 122.06 L741.48 122.49 L742.32 122.92 L742.74 123.78 L742.74 124.21 L742.32 125.07 L741.06 125.5 L739.8 125.5 L738.54 125.07 L738.12 124.21 M746.1 116.47 L746.1 123.78 L746.52 125.07 L747.36 125.5 L748.2 125.5 M744.84 119.48 L747.78 119.48" fill="none" stroke="#000" stroke-width="1" shape-rendering="crispEdges"/>
<path d="M596 149.5H623" stroke="#0000ff" stroke-width="3" stroke-dasharray="2 3" shape-rendering="crispEdges"/>
<path d="M631.86 142.47 L631.86 151.5 M628.92 142.47 L634.8 142.47 M636.9 142.47 L636.9 151.5 M636.9 147.2 L638.16 145.91 L639 145.48 L640.26 145.48 L641.1 145.91 L641.52 147.2 L641.52 151.5 M644.46 148.06 L649.5 148.06 L649.5 147.2 L649.08 146.34 L648.66 145.91 L647.82 145.48 L646.56 145.48 L645.72 145.91 L644.88 146.77 L644.46 148.06 L644.46 148.92 L644.88 150.21 L645.72 151.07 L646.56 151.5 L647.82 151.5 L648.66 151.07 L649.5 150.21 M659.16 142.47 L659.16 151.5 M659.16 142.47 L662.1 142.47 L663.36 142.9 L664.2 143.76 L664.62 144.62 L665.04 145.91 L665.04 148.06 L664.62 149.35 L664.2 150.21 L663.36 151.07 L662.1 151.5 L659.16 151.5 M672.18 146.77 L671.76 145.91 L670.5 145.48 L669.24 145.48 L667.98 145.91 L667.56 146.77 L667.98 147.63 L668.82 148.06 L670.92 148.49 L671.76 148.92 L672.18 149.78 L672.18 150.21 L671.76 151.07 L670.5 151.5 L669.24 151.5 L667.98 151.07 L667.56 150.21 M675.54 142.47 L675.54 149.78 L675.96 151.07 L676.8 151.5 L677.64 151.5 M674.28 145.48 L677.22 145.48 M686.88 145.48 L686.88 154.51 M686.88 146.77 L687.72 145.91 L688.56 145.48 L689.82 145.48 L690.66 145.91 L691.5 146.77 L691.92 148.06 L691.92 148.92 L691.5 150.21 L690.66 151.07 L689.82 151.5 L688.56 151.5 L687.72 151.07 L686.88 150.21 M694.86 145.48 L694.86 151.5 M694.86 148.06 L695.28 146.77 L696.12 145.91 L696.96 145.48 L698.22 145.48 M699.9 148.06 L704.94 148.06 L704.94 147.2 L704.52 146.34 L704.1 145.91 L703.26 145.48 L702 145.48 L701.16 145.91 L700.32 146.77 L699.9 148.06 L699.9 148.92 L700.32 150.21 L701.16 151.07 L702 151.5 L703.26 151.5 L704.1 151.07 L704.94 150.21 M712.5 142.47 L712.5 151.5 M712.5 146.77 L711.66 145.91 L710.82 145.48 L709.56 145.48 L708.72 145.91 L707.88 146.77 L707.46 148.06 L707.46 148.92 L707.88 150.21 L708.72 151.07 L709.56 151.5 L710.82 151.5 L711.66 151.07 L712.5 150.21 M715.44 142.47 L715.86 142.9 L716.28 142.47 L715.86 142.04 L715.44 142.47 M715.86 145.48 L715.86 151.5 M723.84 146.77 L723 145.91 L722.16 145.48 L720.9 145.48 L720.06 145.91 L719.22 146.77 L718.8 148.06 L718.8 148.92 L719.22 150.21 L720.06 151.07 L720.9 151.5 L722.16 151.5 L723 151.07 L723.84 150.21 M727.2 142.47 L727.2 149.78 L727.62 151.07 L728.46 151.5 L729.3 151.5 M725.94 145.48 L728.88 145.48 M731.4 142.47 L731.82 142.9 L732.24 142.47 L731.82 142.04 L731.4 142.47 M731.82 145.48 L731.82 151.5 M736.86 145.48 L736.02 145.91 L735.18 146.77 L734.76 148.06 L734.76 148.92 L735.18 150.21 L736.02 151.07 L736.86 151.5 L738.12 151.5 L738.96 151.07 L739.8 150.21 L740.22 148.92 L740.22 148.06 L739.8 146.77 L738.96 145.91 L738.12 145.48 L736.86 145.48 M743.16 145.48 L743.16 151.5 M743.16 147.2 L744.42 145.91 L745.26 145.48 L746.52 145.48 L747.36 145.91 L747.78 147.2 L747.78 151.5" fill="none" stroke="#000" stroke-width="1" shape-rendering="crispEdges"/>
<path d="M630.18 162.62 L630.18 162.19 L630.6 161.33 L631.02 160.9 L631.86 160.47 L633.54 160.47 L634.38 160.9 L634.8 161.33 L635.22 162.19 L635.22 163.05 L634.8 163.91 L633.96 165.2 L629.76 169.5 L635.64 169.5 M637.74 165.63 L646.98 165.63 M653.28 160.47 L649.08 166.49 L655.38 166.49 M653.28 160.47 L653.28 169.5 M664.62 160.47 L664.62 169.5 M664.62 165.2 L665.88 163.91 L666.72 163.48 L667.98 163.48 L668.82 163.91 L669.24 165.2 L669.24 169.5 M674.28 163.48 L673.44 163.91 L672.6 164.77 L672.18 166.06 L672.18 166.92 L672.6 168.21 L673.44 169.07 L674.28 169.5 L675.54 169.5 L676.38 169.07 L677.22 168.21 L677.64 166.92 L677.64 166.06 L677.22 164.77 L676.38 163.91 L675.54 163.48 L674.28 163.48 M680.58 163.48 L680.58 167.78 L681 169.07 L681.84 169.5 L683.1 169.5 L683.94 169.07 L685.2 167.78 M685.2 163.48 L685.2 169.5 M688.56 163.48 L688.56 169.5 M688.56 166.06 L688.98 164.77 L689.82 163.91 L690.66 163.48 L691.92 163.48 M698.22 164.77 L697.8 163.91 L696.54 163.48 L695.28 163.48 L694.02 163.91 L693.6 164.77 L694.02 165.63 L694.86 166.06 L696.96 166.49 L697.8 166.92 L698.22 167.78 L698.22 168.21 L697.8 169.07 L696.54 169.5 L695.28 169.5 L694.02 169.07 L693.6 168.21 M712.5 163.48 L712.5 169.5 M712.5 164.77 L711.66 163.91 L710.82 163.48 L709.56 163.48 L708.72 163.91 L707.88 164.77 L707.46 166.06 L707.46 166.92 L707.88 168.21 L708.72 169.07 L709.56 169.5 L710.82 169.5 L711.66 169.07 L712.5 168.21 M715.86 160.47 L715.86 169.5 M715.86 165.2 L717.12 163.91 L717.96 163.48 L719.22 163.48 L720.06 163.91 L720.48 165.2 L720.48 169.5 M723.42 166.06 L728.46 166.06 L728.46 165.2 L728.04 164.34 L727.62 163.91 L726.78 163.48 L725.52 163.48 L724.68 163.91 L723.84 164.77 L723.42 166.06 L723.42 166.92 L723.84 168.21 L724.68 169.07 L725.52 169.5 L726.78 169.5 L727.62 169.07 L728.46 168.21 M736.02 163.48 L736.02 169.5 M736.02 164.77 L735.18 163.91 L734.34 163.48 L733.08 163.48 L732.24 163.91 L731.4 164.77 L730.98 166.06 L730.98 166.92 L731.4 168.21 L732.24 169.07 L733.08 169.5 L734.34 169.5 L735.18 169.07 L736.02 168.21 M744 160.47 L744 169.5 M744 164.77 L743.16 163.91 L742.32 163.48 L741.06 163.48 L740.22 163.91 L739.38 164.77 L738.96 166.06 L738.96 166.92 L739.38 168.21 L740.22 169.07 L741.06 169.5 L742.32 169.5 L743.16 169.07 L744 168.21" fill="none" stroke="#000" stroke-width="1" shape-rendering="crispEdges"/>
<rect x="597" y="192" width="29" height="2" fill="#ff0000"/>
<path d="M630.18 186.47 L630.18 195.5 M630.18 186.47 L633.96 186.47 L635.22 186.9 L635.64 187.33 L636.06 188.19 L636.06 189.48 L635.64 190.34 L635.22 190.77 L633.96 191.2 L630.18 191.2 M639 189.48 L639 195.5 M639 192.06 L639.42 190.77 L640.26 189.91 L641.1 189.48 L642.36 189.48 M644.04 192.06 L649.08 192.06 L649.08 191.2 L648.66 190.34 L648.24 189.91 L647.4 189.48 L646.14 189.48 L645.3 189.91 L644.46 190.77 L644.04 192.06 L644.04 192.92 L644.46 194.21 L645.3 195.07 L646.14 195.5 L647.4 195.5 L648.24 195.07 L649.08 194.21 M656.64 186.47 L656.64 195.5 M656.64 190.77 L655.8 189.91 L654.96 189.48 L653.7 189.48 L652.86 189.91 L652.02 190.77 L651.6 192.06 L651.6 192.92 L652.02 194.21 L652.86 195.07 L653.7 195.5 L654.96 195.5 L655.8 195.07 L656.64 194.21 M659.58 186.47 L660 186.9 L660.42 186.47 L660 186.04 L659.58 186.47 M660 189.48 L660 195.5 M667.98 190.77 L667.14 189.91 L666.3 189.48 L665.04 189.48 L664.2 189.91 L663.36 190.77 L662.94 192.06 L662.94 192.92 L663.36 194.21 L664.2 195.07 L665.04 195.5 L666.3 195.5 L667.14 195.07 L667.98 194.21 M671.34 186.47 L671.34 193.78 L671.76 195.07 L672.6 195.5 L673.44 195.5 M670.08 189.48 L673.02 189.48 M675.54 186.47 L675.96 186.9 L676.38 186.47 L675.96 186.04 L675.54 186.47 M675.96 189.48 L675.96 195.5 M681 189.48 L680.16 189.91 L679.32 190.77 L678.9 192.06 L678.9 192.92 L679.32 194.21 L680.16 195.07 L681 195.5 L682.26 195.5 L683.1 195.07 L683.94 194.21 L684.36 192.92 L684.36 192.06 L683.94 190.77 L683.1 189.91 L682.26 189.48 L681 189.48 M687.3 189.48 L687.3 195.5 M687.3 191.2 L688.56 189.91 L689.4 189.48 L690.66 189.48 L691.5 189.91 L691.92 191.2 L691.92 195.5 M703.68 189.48 L702.84 189.91 L702 190.77 L701.58 192.06 L701.58 192.92 L702 194.21 L702.84 195.07 L703.68 195.5 L704.94 195.5 L705.78 195.07 L706.62 194.21 L707.04 192.92 L707.04 192.06 L706.62 190.77 L705.78 189.91 L704.94 189.48 L703.68 189.48 M712.5 186.47 L711.66 186.47 L710.82 186.9 L710.4 188.19 L710.4 195.5 M709.14 189.48 L712.08 189.48 M722.16 186.47 L722.16 193.78 L722.58 195.07 L723.42 195.5 L724.26 195.5 M720.9 189.48 L723.84 189.48 M726.78 186.47 L726.78 195.5 M726.78 191.2 L728.04 189.91 L728.88 189.48 L730.14 189.48 L730.98 189.91 L731.4 191.2 L731.4 195.5 M734.34 192.06 L739.38 192.06 L739.38 191.2 L738.96 190.34 L738.54 189.91 L737.7 189.48 L736.44 189.48 L735.6 189.91 L734.76 190.77 L734.34 192.06 L734.34 192.92 L734.76 194.21 L735.6 195.07 L736.44 195.5 L737.7 195.5 L738.54 195.07 L739.38 194.21" fill="none" stroke="#000" stroke-width="1" shape-rendering="crispEdges"/>
<path d="M634.38 208.77 L633.96 207.91 L632.7 207.48 L631.44 207.48 L630.18 207.91 L629.76 208.77 L630.18 209.63 L631.02 210.06 L633.12 210.49 L633.96 210.92 L634.38 211.78 L634.38 212.21 L633.96 213.07 L632.7 213.5 L631.44 213.5 L630.18 213.07 L629.76 212.21 M637.74 204.47 L637.74 211.78 L638.16 213.07 L639 213.5 L639.84 213.5 M636.48 207.48 L639.42 207.48 M644.04 207.48 L643.2 207.91 L642.36 208.77 L641.94 210.06 L641.94 210.92 L642.36 212.21 L643.2 213.07 L644.04 213.5 L645.3 213.5 L646.14 213.07 L646.98 212.21 L647.4 210.92 L647.4 210.06 L646.98 208.77 L646.14 207.91 L645.3 207.48 L644.04 207.48 M650.34 207.48 L650.34 213.5 M650.34 210.06 L650.76 208.77 L651.6 207.91 L652.44 207.48 L653.7 207.48 M655.8 207.48 L655.8 213.5 M655.8 209.2 L657.06 207.91 L657.9 207.48 L659.16 207.48 L660 207.91 L660.42 209.2 L660.42 213.5 M660.42 209.2 L661.68 207.91 L662.52 207.48 L663.78 207.48 L664.62 207.91 L665.04 209.2 L665.04 213.5 M679.32 208.77 L678.9 207.91 L677.64 207.48 L676.38 207.48 L675.12 207.91 L674.7 208.77 L675.12 209.63 L675.96 210.06 L678.06 210.49 L678.9 210.92 L679.32 211.78 L679.32 212.21 L678.9 213.07 L677.64 213.5 L676.38 213.5 L675.12 213.07 L674.7 212.21 M682.68 204.47 L682.68 211.78 L683.1 213.07 L683.94 213.5 L684.78 213.5 M681.42 207.48 L684.36 207.48 M687.3 207.48 L687.3 213.5 M687.3 210.06 L687.72 208.77 L688.56 207.91 L689.4 207.48 L690.66 207.48 M692.34 210.06 L697.38 210.06 L697.38 209.2 L696.96 208.34 L696.54 207.91 L695.7 207.48 L694.44 207.48 L693.6 207.91 L692.76 208.77 L692.34 210.06 L692.34 210.92 L692.76 212.21 L693.6 213.07 L694.44 213.5 L695.7 213.5 L696.54 213.07 L697.38 212.21 M700.32 207.48 L700.32 213.5 M700.32 209.2 L701.58 207.91 L702.42 207.48 L703.68 207.48 L704.52 207.91 L704.94 209.2 L704.94 213.5 M712.92 207.48 L712.92 214.36 L712.5 215.65 L712.08 216.08 L711.24 216.51 L709.98 216.51 L709.14 216.08 M712.92 208.77 L712.08 207.91 L711.24 207.48 L709.98 207.48 L709.14 207.91 L708.3 208.77 L707.88 210.06 L707.88 210.92 L708.3 212.21 L709.14 213.07 L709.98 213.5 L711.24 213.5 L712.08 213.07 L712.92 212.21 M716.7 204.47 L716.7 211.78 L717.12 213.07 L717.96 213.5 L718.8 213.5 M715.44 207.48 L718.38 207.48 M721.32 204.47 L721.32 213.5 M721.32 209.2 L722.58 207.91 L723.42 207.48 L724.68 207.48 L725.52 207.91 L725.94 209.2 L725.94 213.5" fill="none" stroke="#000" stroke-width="1" shape-rendering="crispEdges"/>
<path d="M633.12 220.75 L632.28 221.61 L631.44 222.9 L630.6 224.62 L630.18 226.77 L630.18 228.49 L630.6 230.64 L631.44 232.36 L632.28 233.65 L633.12 234.51 M636.06 225.48 L636.06 231.5 M636.06 227.2 L637.32 225.91 L638.16 225.48 L639.42 225.48 L640.26 225.91 L640.68 227.2 L640.68 231.5 M640.68 227.2 L641.94 225.91 L642.78 225.48 L644.04 225.48 L644.88 225.91 L645.3 227.2 L645.3 231.5 M648.24 222.47 L648.66 222.9 L649.08 222.47 L648.66 222.04 L648.24 222.47 M648.66 225.48 L648.66 231.5 M652.02 225.48 L652.02 231.5 M652.02 227.2 L653.28 225.91 L654.12 225.48 L655.38 225.48 L656.22 225.91 L656.64 227.2 L656.64 231.5 M666.72 222.47 L666.72 231.5 M666.72 222.47 L669.66 222.47 L670.92 222.9 L671.76 223.76 L672.18 224.62 L672.6 225.91 L672.6 228.06 L672.18 229.35 L671.76 230.21 L670.92 231.07 L669.66 231.5 L666.72 231.5 M679.74 226.77 L679.32 225.91 L678.06 225.48 L676.8 225.48 L675.54 225.91 L675.12 226.77 L675.54 227.63 L676.38 228.06 L678.48 228.49 L679.32 228.92 L679.74 229.78 L679.74 230.21 L679.32 231.07 L678.06 231.5 L676.8 231.5 L675.54 231.07 L675.12 230.21 M683.1 222.47 L683.1 229.78 L683.52 231.07 L684.36 231.5 L685.2 231.5 M681.84 225.48 L684.78 225.48 M687.3 220.75 L688.14 221.61 L688.98 222.9 L689.82 224.62 L690.24 226.77 L690.24 228.49 L689.82 230.64 L688.98 232.36 L688.14 233.65 L687.3 234.51" fill="none" stroke="#000" stroke-width="1" shape-rendering="crispEdges"/>
<path d="M599 334.5H624" stroke="#00ff00" stroke-width="1" shape-rendering="crispEdges"/>
<rect x="597" y="333" width="5" height="4" fill="#00ff00"/><rect x="622" y="333" width="5" height="4" fill="#00ff00"/>
<path d="M631.38 330.47 L631.38 339.5 M631.38 330.47 L635.16 330.47 L636.42 330.9 L636.84 331.33 L637.26 332.19 L637.26 333.05 L636.84 333.91 L636.42 334.34 L635.16 334.77 M631.38 334.77 L635.16 334.77 L636.42 335.2 L636.84 335.63 L637.26 336.49 L637.26 337.78 L636.84 338.64 L636.42 339.07 L635.16 339.5 L631.38 339.5 M644.4 333.48 L639.78 339.5 M639.78 333.48 L644.4 333.48 M639.78 339.5 L644.4 339.5 M657 328.75 L656.16 329.61 L655.32 330.9 L654.48 332.62 L654.06 334.77 L654.06 336.49 L654.48 338.64 L655.32 340.36 L656.16 341.65 L657 342.51 M659.94 333.48 L659.94 339.5 M659.94 335.2 L661.2 333.91 L662.04 333.48 L663.3 333.48 L664.14 333.91 L664.56 335.2 L664.56 339.5 M669.6 330.47 L669.6 339.5 M666.66 330.47 L672.54 330.47 M675.48 339.07 L675.06 339.5 L674.64 339.07 L675.06 338.64 L675.48 339.07 L675.48 340.36 L675.06 341.65 L674.22 342.51 M691.44 332.62 L691.02 331.76 L690.18 330.9 L689.34 330.47 L687.66 330.47 L686.82 330.9 L685.98 331.76 L685.56 332.62 L685.14 333.91 L685.14 336.06 L685.56 337.35 L685.98 338.21 L686.82 339.07 L687.66 339.5 L689.34 339.5 L690.18 339.07 L691.02 338.21 L691.44 337.35 L691.44 336.06 M689.34 336.06 L691.44 336.06 M699.84 331.76 L699 330.9 L697.74 330.47 L696.06 330.47 L694.8 330.9 L693.96 331.76 L693.96 332.62 L694.38 333.48 L694.8 333.91 L695.64 334.34 L698.16 335.2 L699 335.63 L699.42 336.06 L699.84 336.92 L699.84 338.21 L699 339.07 L697.74 339.5 L696.06 339.5 L694.8 339.07 L693.96 338.21 M702.78 330.47 L702.78 339.5 M702.78 330.47 L706.14 339.5 M709.5 330.47 L706.14 339.5 M709.5 330.47 L709.5 339.5 M712.44 328.75 L713.28 329.61 L714.12 330.9 L714.96 332.62 L715.38 334.77 L715.38 336.49 L714.96 338.64 L714.12 340.36 L713.28 341.65 L712.44 342.51" fill="none" stroke="#000" stroke-width="1" shape-rendering="crispEdges"/>
<path d="M599 419.5H624" stroke="#000" stroke-width="1" shape-rendering="crispEdges"/>
<rect x="597" y="418" width="5" height="4" fill="#000"/><rect x="622" y="418" width="5" height="4" fill="#000"/>
<path d="M630.72 415.47 L634.08 424.5 M637.44 415.47 L634.08 424.5 M649.2 413.75 L648.36 414.61 L647.52 415.9 L646.68 417.62 L646.26 419.77 L646.26 421.49 L646.68 423.64 L647.52 425.36 L648.36 426.65 L649.2 427.51 M652.14 415.47 L652.14 424.5 M656.34 418.48 L652.14 422.78 M653.82 421.06 L656.76 424.5 M659.28 418.48 L659.28 424.5 M659.28 420.2 L660.54 418.91 L661.38 418.48 L662.64 418.48 L663.48 418.91 L663.9 420.2 L663.9 424.5 M663.9 420.2 L665.16 418.91 L666 418.48 L667.26 418.48 L668.1 418.91 L668.52 420.2 L668.52 424.5 M678.6 413.75 L671.04 427.51 M685.32 419.77 L684.9 418.91 L683.64 418.48 L682.38 418.48 L681.12 418.91 L680.7 419.77 L681.12 420.63 L681.96 421.06 L684.06 421.49 L684.9 421.92 L685.32 422.78 L685.32 423.21 L684.9 424.07 L683.64 424.5 L682.38 424.5 L681.12 424.07 L680.7 423.21 M687.84 413.75 L688.68 414.61 L689.52 415.9 L690.36 417.62 L690.78 419.77 L690.78 421.49 L690.36 423.64 L689.52 425.36 L688.68 426.65 L687.84 427.51" fill="none" stroke="#000" stroke-width="1" shape-rendering="crispEdges"/>
<path d="M81.35 541.5 L81.35 551.5 M81.35 541.5 L85.53 541.5 L86.92 541.98 L87.38 542.46 L87.85 543.41 L87.85 544.36 L87.38 545.31 L86.92 545.79 L85.53 546.26 L81.35 546.26 M84.6 546.26 L87.85 551.5 M90.63 547.69 L96.19 547.69 L96.19 546.74 L95.73 545.79 L95.27 545.31 L94.34 544.84 L92.95 544.84 L92.02 545.31 L91.09 546.26 L90.63 547.69 L90.63 548.64 L91.09 550.07 L92.02 551.02 L92.95 551.5 L94.34 551.5 L95.27 551.02 L96.19 550.07 M104.54 544.84 L104.54 551.5 M104.54 546.26 L103.61 545.31 L102.69 544.84 L101.29 544.84 L100.37 545.31 L99.44 546.26 L98.98 547.69 L98.98 548.64 L99.44 550.07 L100.37 551.02 L101.29 551.5 L102.69 551.5 L103.61 551.02 L104.54 550.07 M108.25 541.5 L108.25 551.5 M111.03 547.22 L121.23 547.22 M124.48 541.5 L124.48 549.6 L124.94 551.02 L125.87 551.5 L126.8 551.5 M123.09 544.84 L126.33 544.84 M129.12 541.5 L129.58 541.98 L130.04 541.5 L129.58 541.03 L129.12 541.5 M129.58 544.84 L129.58 551.5 M133.29 544.84 L133.29 551.5 M133.29 546.74 L134.68 545.31 L135.61 544.84 L137 544.84 L137.93 545.31 L138.39 546.74 L138.39 551.5 M138.39 546.74 L139.78 545.31 L140.71 544.84 L142.1 544.84 L143.03 545.31 L143.49 546.74 L143.49 551.5 M146.74 547.69 L152.3 547.69 L152.3 546.74 L151.84 545.79 L151.37 545.31 L150.45 544.84 L149.06 544.84 L148.13 545.31 L147.2 546.26 L146.74 547.69 L146.74 548.64 L147.2 550.07 L148.13 551.02 L149.06 551.5 L150.45 551.5 L151.37 551.02 L152.3 550.07 M162.97 541.5 L162.97 551.5 M162.97 541.5 L166.21 541.5 L167.6 541.98 L168.53 542.93 L168.99 543.88 L169.46 545.31 L169.46 547.69 L168.99 549.12 L168.53 550.07 L167.6 551.02 L166.21 551.5 L162.97 551.5 M178.73 542.93 L177.8 541.98 L176.41 541.5 L174.56 541.5 L173.17 541.98 L172.24 542.93 L172.24 543.88 L172.7 544.84 L173.17 545.31 L174.09 545.79 L176.88 546.74 L177.8 547.22 L178.27 547.69 L178.73 548.64 L178.73 550.07 L177.8 551.02 L176.41 551.5 L174.56 551.5 L173.17 551.02 L172.24 550.07 M188.47 543.88 L188.01 542.93 L187.08 541.98 L186.15 541.5 L184.3 541.5 L183.37 541.98 L182.44 542.93 L181.98 543.88 L181.51 545.31 L181.51 547.69 L181.98 549.12 L182.44 550.07 L183.37 551.02 L184.3 551.5 L186.15 551.5 L187.08 551.02 L188.01 550.07 L188.47 549.12 M194.03 541.5 L193.11 541.98 L192.18 542.93 L191.72 543.88 L191.25 545.31 L191.25 547.69 L191.72 549.12 L192.18 550.07 L193.11 551.02 L194.03 551.5 L195.89 551.5 L196.82 551.02 L197.74 550.07 L198.21 549.12 L198.67 547.69 L198.67 545.31 L198.21 543.88 L197.74 542.93 L196.82 541.98 L195.89 541.5 L194.03 541.5 M200.53 541.5 L204.24 551.5 M207.94 541.5 L204.24 551.5 M210.26 541.5 L210.26 551.5 M210.26 541.5 L214.44 541.5 L215.83 541.98 L216.29 542.46 L216.76 543.41 L216.76 544.36 L216.29 545.31 L215.83 545.79 L214.44 546.26 L210.26 546.26 M213.51 546.26 L216.76 551.5 M227.42 544.84 L227.42 551.5 M227.42 546.74 L228.81 545.31 L229.74 544.84 L231.13 544.84 L232.06 545.31 L232.52 546.74 L232.52 551.5 M232.52 546.74 L233.91 545.31 L234.84 544.84 L236.23 544.84 L237.16 545.31 L237.62 546.74 L237.62 551.5 M246.43 544.84 L246.43 551.5 M246.43 546.26 L245.5 545.31 L244.58 544.84 L243.19 544.84 L242.26 545.31 L241.33 546.26 L240.87 547.69 L240.87 548.64 L241.33 550.07 L242.26 551.02 L243.19 551.5 L244.58 551.5 L245.5 551.02 L246.43 550.07 M255.24 544.84 L255.24 552.45 L254.78 553.88 L254.31 554.36 L253.39 554.83 L252 554.83 L251.07 554.36 M255.24 546.26 L254.31 545.31 L253.39 544.84 L252 544.84 L251.07 545.31 L250.14 546.26 L249.68 547.69 L249.68 548.64 L250.14 550.07 L251.07 551.02 L252 551.5 L253.39 551.5 L254.31 551.02 L255.24 550.07 M258.95 544.84 L258.95 551.5 M258.95 546.74 L260.34 545.31 L261.27 544.84 L262.66 544.84 L263.59 545.31 L264.05 546.74 L264.05 551.5 M267.3 547.69 L272.86 547.69 L272.86 546.74 L272.4 545.79 L271.94 545.31 L271.01 544.84 L269.62 544.84 L268.69 545.31 L267.76 546.26 L267.3 547.69 L267.3 548.64 L267.76 550.07 L268.69 551.02 L269.62 551.5 L271.01 551.5 L271.94 551.02 L272.86 550.07 M276.57 541.5 L276.57 549.6 L277.04 551.02 L277.96 551.5 L278.89 551.5 M275.18 544.84 L278.43 544.84 M281.21 541.5 L281.67 541.98 L282.14 541.5 L281.67 541.03 L281.21 541.5 M281.67 544.84 L281.67 551.5 M290.48 546.26 L289.56 545.31 L288.63 544.84 L287.24 544.84 L286.31 545.31 L285.38 546.26 L284.92 547.69 L284.92 548.64 L285.38 550.07 L286.31 551.02 L287.24 551.5 L288.63 551.5 L289.56 551.02 L290.48 550.07 M303.93 541.5 L303 541.5 L302.08 541.98 L301.61 543.41 L301.61 551.5 M300.22 544.84 L303.47 544.84 M306.25 541.5 L306.71 541.98 L307.18 541.5 L306.71 541.03 L306.25 541.5 M306.71 544.84 L306.71 551.5 M309.96 547.69 L315.52 547.69 L315.52 546.74 L315.06 545.79 L314.6 545.31 L313.67 544.84 L312.28 544.84 L311.35 545.31 L310.42 546.26 L309.96 547.69 L309.96 548.64 L310.42 550.07 L311.35 551.02 L312.28 551.5 L313.67 551.5 L314.6 551.02 L315.52 550.07 M318.77 541.5 L318.77 551.5 M327.58 541.5 L327.58 551.5 M327.58 546.26 L326.65 545.31 L325.72 544.84 L324.33 544.84 L323.41 545.31 L322.48 546.26 L322.02 547.69 L322.02 548.64 L322.48 550.07 L323.41 551.02 L324.33 551.5 L325.72 551.5 L326.65 551.02 L327.58 550.07 M343.81 544.84 L343.81 551.5 M343.81 546.26 L342.88 545.31 L341.95 544.84 L340.56 544.84 L339.64 545.31 L338.71 546.26 L338.24 547.69 L338.24 548.64 L338.71 550.07 L339.64 551.02 L340.56 551.5 L341.95 551.5 L342.88 551.02 L343.81 550.07 M347.52 544.84 L347.52 551.5 M347.52 546.74 L348.91 545.31 L349.84 544.84 L351.23 544.84 L352.16 545.31 L352.62 546.74 L352.62 551.5 M361.43 541.5 L361.43 551.5 M361.43 546.26 L360.5 545.31 L359.57 544.84 L358.18 544.84 L357.26 545.31 L356.33 546.26 L355.87 547.69 L355.87 548.64 L356.33 550.07 L357.26 551.02 L358.18 551.5 L359.57 551.5 L360.5 551.02 L361.43 550.07 M377.2 546.26 L376.73 545.31 L375.34 544.84 L373.95 544.84 L372.56 545.31 L372.09 546.26 L372.56 547.22 L373.49 547.69 L375.8 548.17 L376.73 548.64 L377.2 549.6 L377.2 550.07 L376.73 551.02 L375.34 551.5 L373.95 551.5 L372.56 551.02 L372.09 550.07 M382.3 544.84 L381.37 545.31 L380.44 546.26 L379.98 547.69 L379.98 548.64 L380.44 550.07 L381.37 551.02 L382.3 551.5 L383.69 551.5 L384.61 551.02 L385.54 550.07 L386.01 548.64 L386.01 547.69 L385.54 546.26 L384.61 545.31 L383.69 544.84 L382.3 544.84 M389.25 541.5 L389.25 551.5 M398.06 544.84 L398.06 551.5 M398.06 546.26 L397.13 545.31 L396.21 544.84 L394.82 544.84 L393.89 545.31 L392.96 546.26 L392.5 547.69 L392.5 548.64 L392.96 550.07 L393.89 551.02 L394.82 551.5 L396.21 551.5 L397.13 551.02 L398.06 550.07 M401.77 544.84 L401.77 551.5 M401.77 547.69 L402.24 546.26 L403.16 545.31 L404.09 544.84 L405.48 544.84 M414.76 544.84 L416.61 551.5 M418.46 544.84 L416.61 551.5 M418.46 544.84 L420.32 551.5 M422.17 544.84 L420.32 551.5 M424.96 541.5 L425.42 541.98 L425.88 541.5 L425.42 541.03 L424.96 541.5 M425.42 544.84 L425.42 551.5 M429.13 544.84 L429.13 551.5 M429.13 546.74 L430.52 545.31 L431.45 544.84 L432.84 544.84 L433.77 545.31 L434.23 546.74 L434.23 551.5 M443.04 541.5 L443.04 551.5 M443.04 546.26 L442.11 545.31 L441.19 544.84 L439.79 544.84 L438.87 545.31 L437.94 546.26 L437.48 547.69 L437.48 548.64 L437.94 550.07 L438.87 551.02 L439.79 551.5 L441.19 551.5 L442.11 551.02 L443.04 550.07 M458.81 546.26 L458.34 545.31 L456.95 544.84 L455.56 544.84 L454.17 545.31 L453.71 546.26 L454.17 547.22 L455.1 547.69 L457.42 548.17 L458.34 548.64 L458.81 549.6 L458.81 550.07 L458.34 551.02 L456.95 551.5 L455.56 551.5 L454.17 551.02 L453.71 550.07 M462.05 544.84 L462.05 554.83 M462.05 546.26 L462.98 545.31 L463.91 544.84 L465.3 544.84 L466.23 545.31 L467.15 546.26 L467.62 547.69 L467.62 548.64 L467.15 550.07 L466.23 551.02 L465.3 551.5 L463.91 551.5 L462.98 551.02 L462.05 550.07 M470.4 547.69 L475.96 547.69 L475.96 546.74 L475.5 545.79 L475.04 545.31 L474.11 544.84 L472.72 544.84 L471.79 545.31 L470.86 546.26 L470.4 547.69 L470.4 548.64 L470.86 550.07 L471.79 551.02 L472.72 551.5 L474.11 551.5 L475.04 551.02 L475.96 550.07 M478.75 547.69 L484.31 547.69 L484.31 546.74 L483.85 545.79 L483.38 545.31 L482.46 544.84 L481.06 544.84 L480.14 545.31 L479.21 546.26 L478.75 547.69 L478.75 548.64 L479.21 550.07 L480.14 551.02 L481.06 551.5 L482.46 551.5 L483.38 551.02 L484.31 550.07 M492.66 541.5 L492.66 551.5 M492.66 546.26 L491.73 545.31 L490.8 544.84 L489.41 544.84 L488.48 545.31 L487.56 546.26 L487.09 547.69 L487.09 548.64 L487.56 550.07 L488.48 551.02 L489.41 551.5 L490.8 551.5 L491.73 551.02 L492.66 550.07 M508.89 544.84 L508.89 551.5 M508.89 546.26 L507.96 545.31 L507.03 544.84 L505.64 544.84 L504.71 545.31 L503.79 546.26 L503.32 547.69 L503.32 548.64 L503.79 550.07 L504.71 551.02 L505.64 551.5 L507.03 551.5 L507.96 551.02 L508.89 550.07 M512.6 544.84 L512.6 551.5 M512.6 547.69 L513.06 546.26 L513.99 545.31 L514.91 544.84 L516.31 544.84 M518.16 547.69 L523.72 547.69 L523.72 546.74 L523.26 545.79 L522.8 545.31 L521.87 544.84 L520.48 544.84 L519.55 545.31 L518.62 546.26 L518.16 547.69 L518.16 548.64 L518.62 550.07 L519.55 551.02 L520.48 551.5 L521.87 551.5 L522.8 551.02 L523.72 550.07 M539.03 546.26 L538.56 545.31 L537.17 544.84 L535.78 544.84 L534.39 545.31 L533.93 546.26 L534.39 547.22 L535.32 547.69 L537.64 548.17 L538.56 548.64 L539.03 549.6 L539.03 550.07 L538.56 551.02 L537.17 551.5 L535.78 551.5 L534.39 551.02 L533.93 550.07 M542.27 541.5 L542.27 551.5 M542.27 546.74 L543.66 545.31 L544.59 544.84 L545.98 544.84 L546.91 545.31 L547.37 546.74 L547.37 551.5 M550.62 541.5 L551.08 541.98 L551.55 541.5 L551.08 541.03 L550.62 541.5 M551.08 544.84 L551.08 551.5 M557.57 541.5 L556.65 541.5 L555.72 541.98 L555.26 543.41 L555.26 551.5 M553.87 544.84 L557.11 544.84 M560.82 541.5 L560.82 549.6 L561.28 551.02 L562.21 551.5 L563.14 551.5 M559.43 544.84 L562.68 544.84 M565.46 547.69 L571.02 547.69 L571.02 546.74 L570.56 545.79 L570.09 545.31 L569.17 544.84 L567.78 544.84 L566.85 545.31 L565.92 546.26 L565.46 547.69 L565.46 548.64 L565.92 550.07 L566.85 551.02 L567.78 551.5 L569.17 551.5 L570.09 551.02 L571.02 550.07 M579.37 541.5 L579.37 551.5 M579.37 546.26 L578.44 545.31 L577.51 544.84 L576.12 544.84 L575.2 545.31 L574.27 546.26 L573.8 547.69 L573.8 548.64 L574.27 550.07 L575.2 551.02 L576.12 551.5 L577.51 551.5 L578.44 551.02 L579.37 550.07" fill="none" stroke="#000" stroke-width="1" shape-rendering="crispEdges"/>
<path d="M84.54 559.5 L83.61 559.5 L82.68 559.98 L82.22 561.41 L82.22 569.5 M80.83 562.84 L84.07 562.84 M89.17 562.84 L88.25 563.31 L87.32 564.26 L86.86 565.69 L86.86 566.64 L87.32 568.07 L88.25 569.02 L89.17 569.5 L90.57 569.5 L91.49 569.02 L92.42 568.07 L92.88 566.64 L92.88 565.69 L92.42 564.26 L91.49 563.31 L90.57 562.84 L89.17 562.84 M96.13 562.84 L96.13 569.5 M96.13 565.69 L96.59 564.26 L97.52 563.31 L98.45 562.84 L99.84 562.84 M101.69 562.84 L103.55 569.5 M105.4 562.84 L103.55 569.5 M105.4 562.84 L107.26 569.5 M109.11 562.84 L107.26 569.5 M117.46 562.84 L117.46 569.5 M117.46 564.26 L116.53 563.31 L115.6 562.84 L114.21 562.84 L113.29 563.31 L112.36 564.26 L111.9 565.69 L111.9 566.64 L112.36 568.07 L113.29 569.02 L114.21 569.5 L115.6 569.5 L116.53 569.02 L117.46 568.07 M121.17 562.84 L121.17 569.5 M121.17 565.69 L121.63 564.26 L122.56 563.31 L123.49 562.84 L124.88 562.84 M132.3 559.5 L132.3 569.5 M132.3 564.26 L131.37 563.31 L130.44 562.84 L129.05 562.84 L128.12 563.31 L127.2 564.26 L126.73 565.69 L126.73 566.64 L127.2 568.07 L128.12 569.02 L129.05 569.5 L130.44 569.5 L131.37 569.02 L132.3 568.07 M136.94 569.02 L136.47 569.5 L136.01 569.02 L136.47 568.55 L136.94 569.02 L136.94 570.45 L136.47 571.88 L135.54 572.83 M153.16 562.84 L153.16 569.5 M153.16 564.26 L152.24 563.31 L151.31 562.84 L149.92 562.84 L148.99 563.31 L148.06 564.26 L147.6 565.69 L147.6 566.64 L148.06 568.07 L148.99 569.02 L149.92 569.5 L151.31 569.5 L152.24 569.02 L153.16 568.07 M161.97 564.26 L161.05 563.31 L160.12 562.84 L158.73 562.84 L157.8 563.31 L156.87 564.26 L156.41 565.69 L156.41 566.64 L156.87 568.07 L157.8 569.02 L158.73 569.5 L160.12 569.5 L161.05 569.02 L161.97 568.07 M170.32 564.26 L169.39 563.31 L168.47 562.84 L167.08 562.84 L166.15 563.31 L165.22 564.26 L164.76 565.69 L164.76 566.64 L165.22 568.07 L166.15 569.02 L167.08 569.5 L168.47 569.5 L169.39 569.02 L170.32 568.07 M175.42 562.84 L174.49 563.31 L173.57 564.26 L173.1 565.69 L173.1 566.64 L173.57 568.07 L174.49 569.02 L175.42 569.5 L176.81 569.5 L177.74 569.02 L178.67 568.07 L179.13 566.64 L179.13 565.69 L178.67 564.26 L177.74 563.31 L176.81 562.84 L175.42 562.84 M182.38 562.84 L182.38 567.6 L182.84 569.02 L183.77 569.5 L185.16 569.5 L186.09 569.02 L187.48 567.6 M187.48 562.84 L187.48 569.5 M191.19 562.84 L191.19 569.5 M191.19 564.74 L192.58 563.31 L193.51 562.84 L194.9 562.84 L195.82 563.31 L196.29 564.74 L196.29 569.5 M200.46 559.5 L200.46 567.6 L200.93 569.02 L201.85 569.5 L202.78 569.5 M199.07 562.84 L202.32 562.84 M205.1 559.5 L205.56 559.98 L206.03 559.5 L205.56 559.03 L205.1 559.5 M205.56 562.84 L205.56 569.5 M209.27 562.84 L209.27 569.5 M209.27 564.74 L210.66 563.31 L211.59 562.84 L212.98 562.84 L213.91 563.31 L214.37 564.74 L214.37 569.5 M223.18 562.84 L223.18 570.45 L222.72 571.88 L222.26 572.36 L221.33 572.83 L219.94 572.83 L219.01 572.36 M223.18 564.26 L222.26 563.31 L221.33 562.84 L219.94 562.84 L219.01 563.31 L218.08 564.26 L217.62 565.69 L217.62 566.64 L218.08 568.07 L219.01 569.02 L219.94 569.5 L221.33 569.5 L222.26 569.02 L223.18 568.07 M237.09 559.5 L236.17 559.5 L235.24 559.98 L234.78 561.41 L234.78 569.5 M233.38 562.84 L236.63 562.84 M241.73 562.84 L240.8 563.31 L239.88 564.26 L239.41 565.69 L239.41 566.64 L239.88 568.07 L240.8 569.02 L241.73 569.5 L243.12 569.5 L244.05 569.02 L244.98 568.07 L245.44 566.64 L245.44 565.69 L244.98 564.26 L244.05 563.31 L243.12 562.84 L241.73 562.84 M248.69 562.84 L248.69 569.5 M248.69 565.69 L249.15 564.26 L250.08 563.31 L251.01 562.84 L252.4 562.84 M262.13 559.5 L262.13 569.5 M262.13 569.5 L267.7 569.5 M270.94 561.41 L271.87 560.93 L273.26 559.5 L273.26 569.5 M278.36 565.22 L288.56 565.22 M291.35 559.5 L291.35 569.5 M291.35 559.5 L297.38 559.5 M291.35 564.26 L295.06 564.26 M291.35 569.5 L297.38 569.5 M305.26 562.84 L305.26 569.5 M305.26 564.26 L304.33 563.31 L303.4 562.84 L302.01 562.84 L301.08 563.31 L300.16 564.26 L299.69 565.69 L299.69 566.64 L300.16 568.07 L301.08 569.02 L302.01 569.5 L303.4 569.5 L304.33 569.02 L305.26 568.07 M308.97 562.84 L308.97 569.5 M308.97 565.69 L309.43 564.26 L310.36 563.31 L311.29 562.84 L312.68 562.84 M315.46 559.5 L315.46 567.6 L315.92 569.02 L316.85 569.5 L317.78 569.5 M314.07 562.84 L317.31 562.84 M320.56 559.5 L320.56 569.5 M320.56 564.74 L321.95 563.31 L322.88 562.84 L324.27 562.84 L325.2 563.31 L325.66 564.74 L325.66 569.5 M336.79 562.84 L336.79 572.83 M336.79 564.26 L337.72 563.31 L338.64 562.84 L340.04 562.84 L340.96 563.31 L341.89 564.26 L342.35 565.69 L342.35 566.64 L341.89 568.07 L340.96 569.02 L340.04 569.5 L338.64 569.5 L337.72 569.02 L336.79 568.07 M345.6 562.84 L345.6 569.5 M345.6 565.69 L346.06 564.26 L346.99 563.31 L347.92 562.84 L349.31 562.84 M353.48 562.84 L352.56 563.31 L351.63 564.26 L351.16 565.69 L351.16 566.64 L351.63 568.07 L352.56 569.02 L353.48 569.5 L354.87 569.5 L355.8 569.02 L356.73 568.07 L357.19 566.64 L357.19 565.69 L356.73 564.26 L355.8 563.31 L354.87 562.84 L353.48 562.84 M360.44 562.84 L360.44 572.83 M360.44 564.26 L361.37 563.31 L362.29 562.84 L363.68 562.84 L364.61 563.31 L365.54 564.26 L366 565.69 L366 566.64 L365.54 568.07 L364.61 569.02 L363.68 569.5 L362.29 569.5 L361.37 569.02 L360.44 568.07 M374.35 562.84 L374.35 569.5 M374.35 564.26 L373.42 563.31 L372.49 562.84 L371.1 562.84 L370.18 563.31 L369.25 564.26 L368.79 565.69 L368.79 566.64 L369.25 568.07 L370.18 569.02 L371.1 569.5 L372.49 569.5 L373.42 569.02 L374.35 568.07 M383.16 562.84 L383.16 570.45 L382.7 571.88 L382.23 572.36 L381.3 572.83 L379.91 572.83 L378.99 572.36 M383.16 564.26 L382.23 563.31 L381.3 562.84 L379.91 562.84 L378.99 563.31 L378.06 564.26 L377.6 565.69 L377.6 566.64 L378.06 568.07 L378.99 569.02 L379.91 569.5 L381.3 569.5 L382.23 569.02 L383.16 568.07 M391.97 562.84 L391.97 569.5 M391.97 564.26 L391.04 563.31 L390.12 562.84 L388.72 562.84 L387.8 563.31 L386.87 564.26 L386.41 565.69 L386.41 566.64 L386.87 568.07 L387.8 569.02 L388.72 569.5 L390.12 569.5 L391.04 569.02 L391.97 568.07 M396.14 559.5 L396.14 567.6 L396.61 569.02 L397.53 569.5 L398.46 569.5 M394.75 562.84 L398 562.84 M400.78 559.5 L401.24 559.98 L401.71 559.5 L401.24 559.03 L400.78 559.5 M401.24 562.84 L401.24 569.5 M406.81 562.84 L405.88 563.31 L404.95 564.26 L404.49 565.69 L404.49 566.64 L404.95 568.07 L405.88 569.02 L406.81 569.5 L408.2 569.5 L409.13 569.02 L410.05 568.07 L410.52 566.64 L410.52 565.69 L410.05 564.26 L409.13 563.31 L408.2 562.84 L406.81 562.84 M413.76 562.84 L413.76 569.5 M413.76 564.74 L415.16 563.31 L416.08 562.84 L417.47 562.84 L418.4 563.31 L418.86 564.74 L418.86 569.5" fill="none" stroke="#000" stroke-width="1" shape-rendering="crispEdges"/>
<path d="M166.6 587.07 L165.59 586.02 L164.07 585.5 L162.05 585.5 L160.53 586.02 L159.52 587.07 L159.52 588.12 L160.02 589.16 L160.53 589.69 L161.54 590.21 L164.58 591.26 L165.59 591.78 L166.1 592.31 L166.6 593.36 L166.6 594.93 L165.59 595.98 L164.07 596.5 L162.05 596.5 L160.53 595.98 L159.52 594.93 M170.14 589.16 L170.14 600.17 M170.14 590.74 L171.16 589.69 L172.17 589.16 L173.69 589.16 L174.7 589.69 L175.71 590.74 L176.22 592.31 L176.22 593.36 L175.71 594.93 L174.7 595.98 L173.69 596.5 L172.17 596.5 L171.16 595.98 L170.14 594.93 M185.32 589.16 L185.32 596.5 M185.32 590.74 L184.31 589.69 L183.3 589.16 L181.78 589.16 L180.77 589.69 L179.76 590.74 L179.25 592.31 L179.25 593.36 L179.76 594.93 L180.77 595.98 L181.78 596.5 L183.3 596.5 L184.31 595.98 L185.32 594.93 M194.94 590.74 L193.93 589.69 L192.91 589.16 L191.4 589.16 L190.38 589.69 L189.37 590.74 L188.87 592.31 L188.87 593.36 L189.37 594.93 L190.38 595.98 L191.4 596.5 L192.91 596.5 L193.93 595.98 L194.94 594.93 M197.97 592.31 L204.05 592.31 L204.05 591.26 L203.54 590.21 L203.03 589.69 L202.02 589.16 L200.5 589.16 L199.49 589.69 L198.48 590.74 L197.97 592.31 L197.97 593.36 L198.48 594.93 L199.49 595.98 L200.5 596.5 L202.02 596.5 L203.03 595.98 L204.05 594.93 M215.68 585.5 L215.68 596.5 M215.68 585.5 L220.24 585.5 L221.76 586.02 L222.26 586.54 L222.77 587.59 L222.77 588.64 L222.26 589.69 L221.76 590.21 L220.24 590.74 L215.68 590.74 M219.23 590.74 L222.77 596.5 M225.8 592.31 L231.88 592.31 L231.88 591.26 L231.37 590.21 L230.86 589.69 L229.85 589.16 L228.33 589.16 L227.32 589.69 L226.31 590.74 L225.8 592.31 L225.8 593.36 L226.31 594.93 L227.32 595.98 L228.33 596.5 L229.85 596.5 L230.86 595.98 L231.88 594.93 M240.48 590.74 L239.97 589.69 L238.45 589.16 L236.94 589.16 L235.42 589.69 L234.91 590.74 L235.42 591.78 L236.43 592.31 L238.96 592.83 L239.97 593.36 L240.48 594.4 L240.48 594.93 L239.97 595.98 L238.45 596.5 L236.94 596.5 L235.42 595.98 L234.91 594.93 M243.51 592.31 L249.59 592.31 L249.59 591.26 L249.08 590.21 L248.57 589.69 L247.56 589.16 L246.04 589.16 L245.03 589.69 L244.02 590.74 L243.51 592.31 L243.51 593.36 L244.02 594.93 L245.03 595.98 L246.04 596.5 L247.56 596.5 L248.57 595.98 L249.59 594.93 M258.69 589.16 L258.69 596.5 M258.69 590.74 L257.68 589.69 L256.67 589.16 L255.15 589.16 L254.14 589.69 L253.13 590.74 L252.62 592.31 L252.62 593.36 L253.13 594.93 L254.14 595.98 L255.15 596.5 L256.67 596.5 L257.68 595.98 L258.69 594.93 M262.74 589.16 L262.74 596.5 M262.74 592.31 L263.25 590.74 L264.26 589.69 L265.27 589.16 L266.79 589.16 M274.89 590.74 L273.87 589.69 L272.86 589.16 L271.34 589.16 L270.33 589.69 L269.32 590.74 L268.81 592.31 L268.81 593.36 L269.32 594.93 L270.33 595.98 L271.34 596.5 L272.86 596.5 L273.87 595.98 L274.89 594.93 M278.43 585.5 L278.43 596.5 M278.43 591.26 L279.95 589.69 L280.96 589.16 L282.48 589.16 L283.49 589.69 L283.99 591.26 L283.99 596.5 M296.14 585.5 L296.14 596.5 M300.19 589.16 L300.19 596.5 M300.19 591.26 L301.7 589.69 L302.72 589.16 L304.23 589.16 L305.25 589.69 L305.75 591.26 L305.75 596.5 M314.86 590.74 L314.35 589.69 L312.84 589.16 L311.32 589.16 L309.8 589.69 L309.29 590.74 L309.8 591.78 L310.81 592.31 L313.34 592.83 L314.35 593.36 L314.86 594.4 L314.86 594.93 L314.35 595.98 L312.84 596.5 L311.32 596.5 L309.8 595.98 L309.29 594.93 M318.91 585.5 L318.91 594.4 L319.41 595.98 L320.43 596.5 L321.44 596.5 M317.39 589.16 L320.93 589.16 M323.97 585.5 L324.47 586.02 L324.98 585.5 L324.47 584.97 L323.97 585.5 M324.47 589.16 L324.47 596.5 M329.03 585.5 L329.03 594.4 L329.53 595.98 L330.55 596.5 L331.56 596.5 M327.51 589.16 L331.05 589.16 M334.59 589.16 L334.59 594.4 L335.1 595.98 L336.11 596.5 L337.63 596.5 L338.64 595.98 L340.16 594.4 M340.16 589.16 L340.16 596.5 M344.71 585.5 L344.71 594.4 L345.22 595.98 L346.23 596.5 L347.24 596.5 M343.2 589.16 L346.74 589.16 M349.77 592.31 L355.85 592.31 L355.85 591.26 L355.34 590.21 L354.83 589.69 L353.82 589.16 L352.3 589.16 L351.29 589.69 L350.28 590.74 L349.77 592.31 L349.77 593.36 L350.28 594.93 L351.29 595.98 L352.3 596.5 L353.82 596.5 L354.83 595.98 L355.85 594.93 M367.48 585.5 L367.48 596.5 M367.48 585.5 L372.04 585.5 L373.56 586.02 L374.06 586.54 L374.57 587.59 L374.57 588.64 L374.06 589.69 L373.56 590.21 L372.04 590.74 L367.48 590.74 M371.03 590.74 L374.57 596.5 M380.64 585.5 L376.59 596.5 M380.64 585.5 L384.69 596.5 M378.11 592.83 L383.17 592.83 M393.8 587.07 L392.78 586.02 L391.27 585.5 L389.24 585.5 L387.72 586.02 L386.71 587.07 L386.71 588.12 L387.22 589.16 L387.72 589.69 L388.74 590.21 L391.77 591.26 L392.78 591.78 L393.29 592.31 L393.8 593.36 L393.8 594.93 L392.78 595.98 L391.27 596.5 L389.24 596.5 L387.72 595.98 L386.71 594.93" fill="none" stroke="#000" stroke-width="1" shape-rendering="crispEdges"/>
<path d="M160.22 603.5 L160.72 604.02 L161.23 603.5 L160.72 602.97 L160.22 603.5 M160.72 607.16 L160.72 614.5 M164.77 603.5 L164.77 614.5 M169.83 607.16 L164.77 612.4 M166.8 610.31 L170.34 614.5 M172.87 603.5 L173.37 604.02 L173.88 603.5 L173.37 602.97 L172.87 603.5 M173.37 607.16 L173.37 614.5 M177.93 613.45 L177.42 613.98 L177.93 614.5 L178.43 613.98 L177.93 613.45 M188.05 608.74 L187.04 607.69 L186.02 607.16 L184.51 607.16 L183.49 607.69 L182.48 608.74 L181.98 610.31 L181.98 611.36 L182.48 612.93 L183.49 613.98 L184.51 614.5 L186.02 614.5 L187.04 613.98 L188.05 612.93 M193.61 607.16 L192.6 607.69 L191.59 608.74 L191.08 610.31 L191.08 611.36 L191.59 612.93 L192.6 613.98 L193.61 614.5 L195.13 614.5 L196.14 613.98 L197.16 612.93 L197.66 611.36 L197.66 610.31 L197.16 608.74 L196.14 607.69 L195.13 607.16 L193.61 607.16 M206.26 608.74 L205.76 607.69 L204.24 607.16 L202.72 607.16 L201.2 607.69 L200.7 608.74 L201.2 609.78 L202.22 610.31 L204.75 610.83 L205.76 611.36 L206.26 612.4 L206.26 612.93 L205.76 613.98 L204.24 614.5 L202.72 614.5 L201.2 613.98 L200.7 612.93 M209.81 607.16 L209.81 614.5 M209.81 609.26 L211.32 607.69 L212.34 607.16 L213.85 607.16 L214.87 607.69 L215.37 609.26 L215.37 614.5 M215.37 609.26 L216.89 607.69 L217.9 607.16 L219.42 607.16 L220.43 607.69 L220.94 609.26 L220.94 614.5 M227.01 607.16 L226 607.69 L224.99 608.74 L224.48 610.31 L224.48 611.36 L224.99 612.93 L226 613.98 L227.01 614.5 L228.53 614.5 L229.54 613.98 L230.55 612.93 L231.06 611.36 L231.06 610.31 L230.55 608.74 L229.54 607.69 L228.53 607.16 L227.01 607.16 M239.66 608.74 L239.15 607.69 L237.64 607.16 L236.12 607.16 L234.6 607.69 L234.09 608.74 L234.6 609.78 L235.61 610.31 L238.14 610.83 L239.15 611.36 L239.66 612.4 L239.66 612.93 L239.15 613.98 L237.64 614.5 L236.12 614.5 L234.6 613.98 L234.09 612.93 M243.71 613.45 L243.2 613.98 L243.71 614.5 L244.21 613.98 L243.71 613.45 M248.26 607.16 L248.26 614.5 M248.26 610.31 L248.77 608.74 L249.78 607.69 L250.79 607.16 L252.31 607.16 M254.84 607.16 L254.84 612.4 L255.35 613.98 L256.36 614.5 L257.88 614.5 L258.89 613.98 L260.41 612.4 M260.41 607.16 L260.41 614.5" fill="none" stroke="#000" stroke-width="1" shape-rendering="crispEdges"/>
<path d="M603.17 569.47 L603.17 575.92 L603.59 577.21 L604.43 578.07 L605.68 578.5 L606.52 578.5 L607.77 578.07 L608.61 577.21 L609.02 575.92 L609.02 569.47 M612.37 572.48 L612.37 581.51 M612.37 573.77 L613.2 572.91 L614.04 572.48 L615.29 572.48 L616.13 572.91 L616.97 573.77 L617.38 575.06 L617.38 575.92 L616.97 577.21 L616.13 578.07 L615.29 578.5 L614.04 578.5 L613.2 578.07 L612.37 577.21 M624.91 569.47 L624.91 578.5 M624.91 573.77 L624.07 572.91 L623.24 572.48 L621.98 572.48 L621.15 572.91 L620.31 573.77 L619.89 575.06 L619.89 575.92 L620.31 577.21 L621.15 578.07 L621.98 578.5 L623.24 578.5 L624.07 578.07 L624.91 577.21 M632.85 572.48 L632.85 578.5 M632.85 573.77 L632.01 572.91 L631.18 572.48 L629.92 572.48 L629.09 572.91 L628.25 573.77 L627.83 575.06 L627.83 575.92 L628.25 577.21 L629.09 578.07 L629.92 578.5 L631.18 578.5 L632.01 578.07 L632.85 577.21 M636.61 569.47 L636.61 576.78 L637.03 578.07 L637.87 578.5 L638.7 578.5 M635.36 572.48 L638.28 572.48 M640.79 575.06 L645.81 575.06 L645.81 574.2 L645.39 573.34 L644.97 572.91 L644.14 572.48 L642.88 572.48 L642.05 572.91 L641.21 573.77 L640.79 575.06 L640.79 575.92 L641.21 577.21 L642.05 578.07 L642.88 578.5 L644.14 578.5 L644.97 578.07 L645.81 577.21 M653.33 569.47 L653.33 578.5 M653.33 573.77 L652.5 572.91 L651.66 572.48 L650.41 572.48 L649.57 572.91 L648.73 573.77 L648.32 575.06 L648.32 575.92 L648.73 577.21 L649.57 578.07 L650.41 578.5 L651.66 578.5 L652.5 578.07 L653.33 577.21 M667.96 572.48 L667.96 578.5 M667.96 573.77 L667.13 572.91 L666.29 572.48 L665.04 572.48 L664.2 572.91 L663.36 573.77 L662.95 575.06 L662.95 575.92 L663.36 577.21 L664.2 578.07 L665.04 578.5 L666.29 578.5 L667.13 578.07 L667.96 577.21 M671.72 569.47 L671.72 576.78 L672.14 578.07 L672.98 578.5 L673.81 578.5 M670.47 572.48 L673.4 572.48 M676.74 572.48 L676.32 572.91 L676.74 573.34 L677.16 572.91 L676.74 572.48 M676.74 577.64 L676.32 578.07 L676.74 578.5 L677.16 578.07 L676.74 577.64" fill="none" stroke="#000" stroke-width="1" shape-rendering="crispEdges"/>
<path d="M603.21 587.47 L603.21 593.92 L603.63 595.21 L604.49 596.07 L605.77 596.5 L606.62 596.5 L607.9 596.07 L608.76 595.21 L609.19 593.92 L609.19 587.47 M614.31 587.47 L614.31 596.5 M611.32 587.47 L617.3 587.47" fill="none" stroke="#000" stroke-width="1" shape-rendering="crispEdges"/>
<path d="M637.73 587.47 L636.39 587.9 L635.5 589.19 L635.05 591.34 L635.05 592.63 L635.5 594.78 L636.39 596.07 L637.73 596.5 L638.63 596.5 L639.97 596.07 L640.86 594.78 L641.31 592.63 L641.31 591.34 L640.86 589.19 L639.97 587.9 L638.63 587.47 L637.73 587.47 M646.09 587.47 L644.75 587.9 L643.86 589.19 L643.41 591.34 L643.41 592.63 L643.86 594.78 L644.75 596.07 L646.09 596.5 L646.99 596.5 L648.33 596.07 L649.22 594.78 L649.67 592.63 L649.67 591.34 L649.22 589.19 L648.33 587.9 L646.99 587.47 L646.09 587.47 M652.81 590.48 L652.39 590.91 L652.81 591.34 L653.23 590.91 L652.81 590.48 M652.81 595.64 L652.39 596.07 L652.81 596.5 L653.23 596.07 L652.81 595.64 M658.63 587.47 L657.29 587.9 L656.4 589.19 L655.95 591.34 L655.95 592.63 L656.4 594.78 L657.29 596.07 L658.63 596.5 L659.53 596.5 L660.87 596.07 L661.76 594.78 L662.21 592.63 L662.21 591.34 L661.76 589.19 L660.87 587.9 L659.53 587.47 L658.63 587.47 M669.53 587.47 L665.35 587.47 L664.93 591.34 L665.35 590.91 L666.6 590.48 L667.86 590.48 L669.11 590.91 L669.95 591.77 L670.37 593.06 L670.37 593.92 L669.95 595.21 L669.11 596.07 L667.86 596.5 L666.6 596.5 L665.35 596.07 L664.93 595.64 L664.51 594.78 M674.13 596.07 L673.71 596.5 L673.29 596.07 L673.71 595.64 L674.13 596.07 L674.13 597.36 L673.71 598.65 L672.87 599.51" fill="none" stroke="#000" stroke-width="1" shape-rendering="crispEdges"/>
<path d="M684.87 589.62 L684.87 589.19 L685.29 588.33 L685.71 587.9 L686.54 587.47 L688.22 587.47 L689.05 587.9 L689.47 588.33 L689.89 589.19 L689.89 590.05 L689.47 590.91 L688.63 592.2 L684.45 596.5 L690.31 596.5 M695.29 587.47 L693.95 587.9 L693.06 589.19 L692.61 591.34 L692.61 592.63 L693.06 594.78 L693.95 596.07 L695.29 596.5 L696.19 596.5 L697.53 596.07 L698.42 594.78 L698.87 592.63 L698.87 591.34 L698.42 589.19 L697.53 587.9 L696.19 587.47 L695.29 587.47 M702.01 595.64 L701.59 596.07 L702.01 596.5 L702.43 596.07 L702.01 595.64 M706.61 589.19 L707.44 588.76 L708.7 587.47 L708.7 596.5 M714.13 589.62 L714.13 589.19 L714.55 588.33 L714.97 587.9 L715.8 587.47 L717.48 587.47 L718.31 587.9 L718.73 588.33 L719.15 589.19 L719.15 590.05 L718.73 590.91 L717.89 592.2 L713.71 596.5 L719.57 596.5 M722.91 595.64 L722.49 596.07 L722.91 596.5 L723.33 596.07 L722.91 595.64 M726.67 589.62 L726.67 589.19 L727.09 588.33 L727.51 587.9 L728.34 587.47 L730.02 587.47 L730.85 587.9 L731.27 588.33 L731.69 589.19 L731.69 590.05 L731.27 590.91 L730.43 592.2 L726.25 596.5 L732.11 596.5 M737.09 587.47 L735.75 587.9 L734.86 589.19 L734.41 591.34 L734.41 592.63 L734.86 594.78 L735.75 596.07 L737.09 596.5 L737.99 596.5 L739.33 596.07 L740.22 594.78 L740.67 592.63 L740.67 591.34 L740.22 589.19 L739.33 587.9 L737.99 587.47 L737.09 587.47 M743.39 589.62 L743.39 589.19 L743.81 588.33 L744.23 587.9 L745.06 587.47 L746.74 587.47 L747.57 587.9 L747.99 588.33 L748.41 589.19 L748.41 590.05 L747.99 590.91 L747.15 592.2 L742.97 596.5 L748.83 596.5 M756.35 587.47 L752.17 587.47 L751.75 591.34 L752.17 590.91 L753.42 590.48 L754.68 590.48 L755.93 590.91 L756.77 591.77 L757.19 593.06 L757.19 593.92 L756.77 595.21 L755.93 596.07 L754.68 596.5 L753.42 596.5 L752.17 596.07 L751.75 595.64 L751.33 594.78" fill="none" stroke="#000" stroke-width="1" shape-rendering="crispEdges"/>
<path d="M603.21 605.47 L603.21 614.5 M603.21 605.47 L606.62 614.5 M610.04 605.47 L606.62 614.5 M610.04 605.47 L610.04 614.5 M619.01 606.76 L618.15 605.9 L616.87 605.47 L615.16 605.47 L613.88 605.9 L613.03 606.76 L613.03 607.62 L613.46 608.48 L613.88 608.91 L614.74 609.34 L617.3 610.2 L618.15 610.63 L618.58 611.06 L619.01 611.92 L619.01 613.21 L618.15 614.07 L616.87 614.5 L615.16 614.5 L613.88 614.07 L613.03 613.21 M622 605.47 L622 614.5 M627.97 605.47 L622 611.49 M624.13 609.34 L627.97 614.5" fill="none" stroke="#000" stroke-width="1" shape-rendering="crispEdges"/>
<path d="M637.73 605.47 L636.39 605.9 L635.5 607.19 L635.05 609.34 L635.05 610.63 L635.5 612.78 L636.39 614.07 L637.73 614.5 L638.63 614.5 L639.97 614.07 L640.86 612.78 L641.31 610.63 L641.31 609.34 L640.86 607.19 L639.97 605.9 L638.63 605.47 L637.73 605.47 M644.45 605.47 L649.05 605.47 L646.54 608.91 L647.79 608.91 L648.63 609.34 L649.05 609.77 L649.47 611.06 L649.47 611.92 L649.05 613.21 L648.21 614.07 L646.96 614.5 L645.7 614.5 L644.45 614.07 L644.03 613.64 L643.61 612.78 M652.81 608.48 L652.39 608.91 L652.81 609.34 L653.23 608.91 L652.81 608.48 M652.81 613.64 L652.39 614.07 L652.81 614.5 L653.23 614.07 L652.81 613.64 M658.63 605.47 L657.29 605.9 L656.4 607.19 L655.95 609.34 L655.95 610.63 L656.4 612.78 L657.29 614.07 L658.63 614.5 L659.53 614.5 L660.87 614.07 L661.76 612.78 L662.21 610.63 L662.21 609.34 L661.76 607.19 L660.87 605.9 L659.53 605.47 L658.63 605.47 M669.53 605.47 L665.35 605.47 L664.93 609.34 L665.35 608.91 L666.6 608.48 L667.86 608.48 L669.11 608.91 L669.95 609.77 L670.37 611.06 L670.37 611.92 L669.95 613.21 L669.11 614.07 L667.86 614.5 L666.6 614.5 L665.35 614.07 L664.93 613.64 L664.51 612.78 M674.13 614.07 L673.71 614.5 L673.29 614.07 L673.71 613.64 L674.13 614.07 L674.13 615.36 L673.71 616.65 L672.87 617.51" fill="none" stroke="#000" stroke-width="1" shape-rendering="crispEdges"/>
<path d="M684.87 607.62 L684.87 607.19 L685.29 606.33 L685.71 605.9 L686.54 605.47 L688.22 605.47 L689.05 605.9 L689.47 606.33 L689.89 607.19 L689.89 608.05 L689.47 608.91 L688.63 610.2 L684.45 614.5 L690.31 614.5 M695.29 605.47 L693.95 605.9 L693.06 607.19 L692.61 609.34 L692.61 610.63 L693.06 612.78 L693.95 614.07 L695.29 614.5 L696.19 614.5 L697.53 614.07 L698.42 612.78 L698.87 610.63 L698.87 609.34 L698.42 607.19 L697.53 605.9 L696.19 605.47 L695.29 605.47 M702.01 613.64 L701.59 614.07 L702.01 614.5 L702.43 614.07 L702.01 613.64 M706.61 607.19 L707.44 606.76 L708.7 605.47 L708.7 614.5 M714.13 607.62 L714.13 607.19 L714.55 606.33 L714.97 605.9 L715.8 605.47 L717.48 605.47 L718.31 605.9 L718.73 606.33 L719.15 607.19 L719.15 608.05 L718.73 608.91 L717.89 610.2 L713.71 614.5 L719.57 614.5 M722.91 613.64 L722.49 614.07 L722.91 614.5 L723.33 614.07 L722.91 613.64 M726.67 607.62 L726.67 607.19 L727.09 606.33 L727.51 605.9 L728.34 605.47 L730.02 605.47 L730.85 605.9 L731.27 606.33 L731.69 607.19 L731.69 608.05 L731.27 608.91 L730.43 610.2 L726.25 614.5 L732.11 614.5 M737.09 605.47 L735.75 605.9 L734.86 607.19 L734.41 609.34 L734.41 610.63 L734.86 612.78 L735.75 614.07 L737.09 614.5 L737.99 614.5 L739.33 614.07 L740.22 612.78 L740.67 610.63 L740.67 609.34 L740.22 607.19 L739.33 605.9 L737.99 605.47 L737.09 605.47 M743.39 607.62 L743.39 607.19 L743.81 606.33 L744.23 605.9 L745.06 605.47 L746.74 605.47 L747.57 605.9 L747.99 606.33 L748.41 607.19 L748.41 608.05 L747.99 608.91 L747.15 610.2 L742.97 614.5 L748.83 614.5 M756.35 605.47 L752.17 605.47 L751.75 609.34 L752.17 608.91 L753.42 608.48 L754.68 608.48 L755.93 608.91 L756.77 609.77 L757.19 611.06 L757.19 611.92 L756.77 613.21 L755.93 614.07 L754.68 614.5 L753.42 614.5 L752.17 614.07 L751.75 613.64 L751.33 612.78" fill="none" stroke="#000" stroke-width="1" shape-rendering="crispEdges"/>
<g transform="translate(74,582)" fill="#1c1c1c">
<rect x="8.5" y="7" width="6.5" height="23"/><rect x="5" y="6.5" width="11.5" height="1.5"/><rect x="5" y="29" width="11.5" height="1.5"/>
<rect x="23" y="7" width="7" height="23"/><rect x="20" y="6.5" width="11" height="1.5"/><rect x="20" y="29" width="11" height="1.5"/>
<path d="M11.5 29.5 L13.7 29.5 L28 8 L26.5 7.5 Z"/>
<circle cx="37" cy="11.5" r="6"/>
<path d="M30 19.5 L33.5 18 L43 29 L43 30.5 L34 30.5 L34 29 Z"/>
<rect x="46" y="7" width="6.5" height="23"/><rect x="43.5" y="6.5" width="10.5" height="1.5"/><rect x="43.5" y="29" width="10.5" height="1.5"/>
<rect x="59.5" y="7" width="6.5" height="23"/><rect x="57" y="6.5" width="11.5" height="1.5"/><rect x="57" y="29" width="11.5" height="1.5"/>
<path d="M49 29.5 L51.2 29.5 L64.5 8 L63 7.5 Z"/>
<path d="M33.2 14.6 L39.6 8.2 L40.6 9.2 L34.2 15.6 Z" fill="#bdbdbd"/>
</g>
</svg>
</body></html>
